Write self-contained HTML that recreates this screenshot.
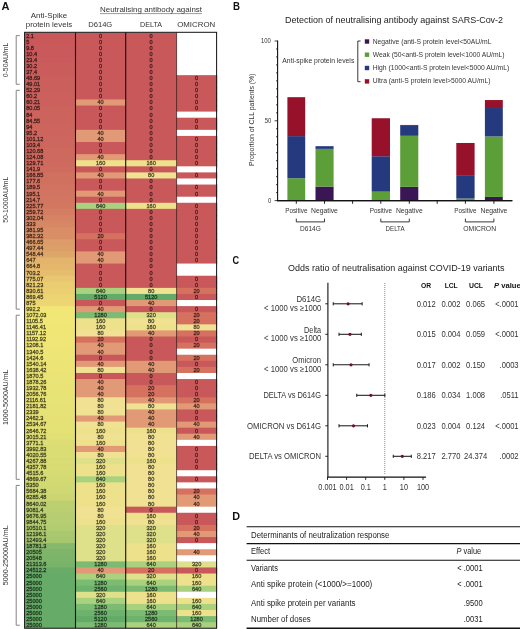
<!DOCTYPE html>
<html><head><meta charset="utf-8"><style>
html,body{margin:0;padding:0;background:#fff;}
body{width:520px;height:629px;overflow:hidden;font-family:"Liberation Sans", sans-serif;}
svg{display:block;will-change:transform;}
</style></head><body>
<svg width="520" height="629" viewBox="0 0 520 629" font-family='"Liberation Sans", sans-serif'><rect x="0.00" y="0.00" width="520.00" height="629.00" fill="#fff" /><text x="1.50" y="10.30" font-size="10.5" text-anchor="start" fill="#111" font-weight="bold" textLength="8.00" lengthAdjust="spacingAndGlyphs" >A</text><text x="49.00" y="18.30" font-size="7.9" text-anchor="middle" fill="#333" textLength="36.40" lengthAdjust="spacingAndGlyphs" >Anti-Spike</text><text x="49.00" y="27.40" font-size="7.9" text-anchor="middle" fill="#333" textLength="46.50" lengthAdjust="spacingAndGlyphs" >protein levels</text><text x="100.00" y="12.30" font-size="7.9" text-anchor="start" fill="#333" textLength="102.00" lengthAdjust="spacingAndGlyphs" >Neutralising antibody against</text><line x1="100.00" y1="13.60" x2="202.00" y2="13.60" stroke="#555" stroke-width="0.6" /><text x="88.20" y="27.40" font-size="7.9" text-anchor="start" fill="#333" textLength="24.10" lengthAdjust="spacingAndGlyphs" >D614G</text><text x="140.00" y="27.40" font-size="7.9" text-anchor="start" fill="#333" textLength="22.00" lengthAdjust="spacingAndGlyphs" >DELTA</text><text x="177.20" y="27.40" font-size="7.9" text-anchor="start" fill="#333" textLength="38.00" lengthAdjust="spacingAndGlyphs" >OMICRON</text><rect x="24.60" y="32.60" width="50.90" height="7.08" fill="#c9585b" /><rect x="75.50" y="32.60" width="50.80" height="7.08" fill="#c9585b" /><rect x="125.70" y="32.60" width="51.50" height="7.08" fill="#c9585b" /><rect x="176.60" y="32.60" width="40.60" height="7.08" fill="#ffffff" /><rect x="24.60" y="38.68" width="50.90" height="7.08" fill="#c9585b" /><rect x="75.50" y="38.68" width="50.80" height="7.08" fill="#c9585b" /><rect x="125.70" y="38.68" width="51.50" height="7.08" fill="#c9585b" /><rect x="176.60" y="38.68" width="40.60" height="7.08" fill="#ffffff" /><rect x="24.60" y="44.76" width="50.90" height="7.08" fill="#c9595b" /><rect x="75.50" y="44.76" width="50.80" height="7.08" fill="#c9585b" /><rect x="125.70" y="44.76" width="51.50" height="7.08" fill="#c9585b" /><rect x="176.60" y="44.76" width="40.60" height="7.08" fill="#ffffff" /><rect x="24.60" y="50.83" width="50.90" height="7.08" fill="#c9595b" /><rect x="75.50" y="50.83" width="50.80" height="7.08" fill="#c9585b" /><rect x="125.70" y="50.83" width="51.50" height="7.08" fill="#c9585b" /><rect x="176.60" y="50.83" width="40.60" height="7.08" fill="#ffffff" /><rect x="24.60" y="56.91" width="50.90" height="7.08" fill="#ca5b5c" /><rect x="75.50" y="56.91" width="50.80" height="7.08" fill="#c9585b" /><rect x="125.70" y="56.91" width="51.50" height="7.08" fill="#c9585b" /><rect x="176.60" y="56.91" width="40.60" height="7.08" fill="#ffffff" /><rect x="24.60" y="62.99" width="50.90" height="7.08" fill="#ca5c5c" /><rect x="75.50" y="62.99" width="50.80" height="7.08" fill="#c9585b" /><rect x="125.70" y="62.99" width="51.50" height="7.08" fill="#c9585b" /><rect x="176.60" y="62.99" width="40.60" height="7.08" fill="#ffffff" /><rect x="24.60" y="69.07" width="50.90" height="7.08" fill="#ca5d5c" /><rect x="75.50" y="69.07" width="50.80" height="7.08" fill="#c9585b" /><rect x="125.70" y="69.07" width="51.50" height="7.08" fill="#c9585b" /><rect x="176.60" y="69.07" width="40.60" height="7.08" fill="#ffffff" /><rect x="24.60" y="75.15" width="50.90" height="7.08" fill="#cb5f5c" /><rect x="75.50" y="75.15" width="50.80" height="7.08" fill="#c9585b" /><rect x="125.70" y="75.15" width="51.50" height="7.08" fill="#c9585b" /><rect x="176.60" y="75.15" width="40.60" height="7.08" fill="#c9585b" /><rect x="24.60" y="81.22" width="50.90" height="7.08" fill="#cb5f5c" /><rect x="75.50" y="81.22" width="50.80" height="7.08" fill="#c9585b" /><rect x="125.70" y="81.22" width="51.50" height="7.08" fill="#c9585b" /><rect x="176.60" y="81.22" width="40.60" height="7.08" fill="#c9585b" /><rect x="24.60" y="87.30" width="50.90" height="7.08" fill="#cb5f5c" /><rect x="75.50" y="87.30" width="50.80" height="7.08" fill="#c9585b" /><rect x="125.70" y="87.30" width="51.50" height="7.08" fill="#c9585b" /><rect x="176.60" y="87.30" width="40.60" height="7.08" fill="#c9585b" /><rect x="24.60" y="93.38" width="50.90" height="7.08" fill="#cb605d" /><rect x="75.50" y="93.38" width="50.80" height="7.08" fill="#c9585b" /><rect x="125.70" y="93.38" width="51.50" height="7.08" fill="#c9585b" /><rect x="176.60" y="93.38" width="40.60" height="7.08" fill="#c9585b" /><rect x="24.60" y="99.46" width="50.90" height="7.08" fill="#cb605d" /><rect x="75.50" y="99.46" width="50.80" height="7.08" fill="#e19a75" /><rect x="125.70" y="99.46" width="51.50" height="7.08" fill="#c9585b" /><rect x="176.60" y="99.46" width="40.60" height="7.08" fill="#c9585b" /><rect x="24.60" y="105.54" width="50.90" height="7.08" fill="#cc635d" /><rect x="75.50" y="105.54" width="50.80" height="7.08" fill="#c9585b" /><rect x="125.70" y="105.54" width="51.50" height="7.08" fill="#c9585b" /><rect x="176.60" y="105.54" width="40.60" height="7.08" fill="#c9585b" /><rect x="24.60" y="111.61" width="50.90" height="7.08" fill="#cc645d" /><rect x="75.50" y="111.61" width="50.80" height="7.08" fill="#c9585b" /><rect x="125.70" y="111.61" width="51.50" height="7.08" fill="#c9585b" /><rect x="176.60" y="111.61" width="40.60" height="7.08" fill="#ffffff" /><rect x="24.60" y="117.69" width="50.90" height="7.08" fill="#cc645d" /><rect x="75.50" y="117.69" width="50.80" height="7.08" fill="#c9585b" /><rect x="125.70" y="117.69" width="51.50" height="7.08" fill="#c9585b" /><rect x="176.60" y="117.69" width="40.60" height="7.08" fill="#c9585b" /><rect x="24.60" y="123.77" width="50.90" height="7.08" fill="#cd655d" /><rect x="75.50" y="123.77" width="50.80" height="7.08" fill="#c9585b" /><rect x="125.70" y="123.77" width="51.50" height="7.08" fill="#c9585b" /><rect x="176.60" y="123.77" width="40.60" height="7.08" fill="#c9585b" /><rect x="24.60" y="129.85" width="50.90" height="7.08" fill="#cd655e" /><rect x="75.50" y="129.85" width="50.80" height="7.08" fill="#e19a75" /><rect x="125.70" y="129.85" width="51.50" height="7.08" fill="#c9585b" /><rect x="176.60" y="129.85" width="40.60" height="7.08" fill="#ffffff" /><rect x="24.60" y="135.93" width="50.90" height="7.08" fill="#cd665e" /><rect x="75.50" y="135.93" width="50.80" height="7.08" fill="#e19a75" /><rect x="125.70" y="135.93" width="51.50" height="7.08" fill="#c9585b" /><rect x="176.60" y="135.93" width="40.60" height="7.08" fill="#c9585b" /><rect x="24.60" y="142.00" width="50.90" height="7.08" fill="#cd675e" /><rect x="75.50" y="142.00" width="50.80" height="7.08" fill="#c9585b" /><rect x="125.70" y="142.00" width="51.50" height="7.08" fill="#c9585b" /><rect x="176.60" y="142.00" width="40.60" height="7.08" fill="#c9585b" /><rect x="24.60" y="148.08" width="50.90" height="7.08" fill="#ce695e" /><rect x="75.50" y="148.08" width="50.80" height="7.08" fill="#c9585b" /><rect x="125.70" y="148.08" width="51.50" height="7.08" fill="#c9585b" /><rect x="176.60" y="148.08" width="40.60" height="7.08" fill="#c9585b" /><rect x="24.60" y="154.16" width="50.90" height="7.08" fill="#ce695e" /><rect x="75.50" y="154.16" width="50.80" height="7.08" fill="#e19a75" /><rect x="125.70" y="154.16" width="51.50" height="7.08" fill="#c9585b" /><rect x="176.60" y="154.16" width="40.60" height="7.08" fill="#c9585b" /><rect x="24.60" y="160.24" width="50.90" height="7.08" fill="#ce6a5e" /><rect x="75.50" y="160.24" width="50.80" height="7.08" fill="#eee18b" /><rect x="125.70" y="160.24" width="51.50" height="7.08" fill="#eee18b" /><rect x="176.60" y="160.24" width="40.60" height="7.08" fill="#c9585b" /><rect x="24.60" y="166.32" width="50.90" height="7.08" fill="#cf6c5f" /><rect x="75.50" y="166.32" width="50.80" height="7.08" fill="#c9585b" /><rect x="125.70" y="166.32" width="51.50" height="7.08" fill="#c9585b" /><rect x="176.60" y="166.32" width="40.60" height="7.08" fill="#ffffff" /><rect x="24.60" y="172.39" width="50.90" height="7.08" fill="#d0705f" /><rect x="75.50" y="172.39" width="50.80" height="7.08" fill="#e19a75" /><rect x="125.70" y="172.39" width="51.50" height="7.08" fill="#f1e193" /><rect x="176.60" y="172.39" width="40.60" height="7.08" fill="#c9585b" /><rect x="24.60" y="178.47" width="50.90" height="7.08" fill="#d07160" /><rect x="75.50" y="178.47" width="50.80" height="7.08" fill="#c9585b" /><rect x="125.70" y="178.47" width="51.50" height="7.08" fill="#c9585b" /><rect x="176.60" y="178.47" width="40.60" height="7.08" fill="#ffffff" /><rect x="24.60" y="184.55" width="50.90" height="7.08" fill="#d17360" /><rect x="75.50" y="184.55" width="50.80" height="7.08" fill="#c9585b" /><rect x="125.70" y="184.55" width="51.50" height="7.08" fill="#c9585b" /><rect x="176.60" y="184.55" width="40.60" height="7.08" fill="#c9585b" /><rect x="24.60" y="190.63" width="50.90" height="7.08" fill="#d17460" /><rect x="75.50" y="190.63" width="50.80" height="7.08" fill="#e19a75" /><rect x="125.70" y="190.63" width="51.50" height="7.08" fill="#c9585b" /><rect x="176.60" y="190.63" width="40.60" height="7.08" fill="#c9585b" /><rect x="24.60" y="196.71" width="50.90" height="7.08" fill="#d27661" /><rect x="75.50" y="196.71" width="50.80" height="7.08" fill="#c9585b" /><rect x="125.70" y="196.71" width="51.50" height="7.08" fill="#c9585b" /><rect x="176.60" y="196.71" width="40.60" height="7.08" fill="#ffffff" /><rect x="24.60" y="202.78" width="50.90" height="7.08" fill="#d27861" /><rect x="75.50" y="202.78" width="50.80" height="7.08" fill="#a9d17e" /><rect x="125.70" y="202.78" width="51.50" height="7.08" fill="#eee18b" /><rect x="176.60" y="202.78" width="40.60" height="7.08" fill="#c9585b" /><rect x="24.60" y="208.86" width="50.90" height="7.08" fill="#d47d62" /><rect x="75.50" y="208.86" width="50.80" height="7.08" fill="#c9585b" /><rect x="125.70" y="208.86" width="51.50" height="7.08" fill="#c9585b" /><rect x="176.60" y="208.86" width="40.60" height="7.08" fill="#c9585b" /><rect x="24.60" y="214.94" width="50.90" height="7.08" fill="#d58363" /><rect x="75.50" y="214.94" width="50.80" height="7.08" fill="#c9585b" /><rect x="125.70" y="214.94" width="51.50" height="7.08" fill="#c9585b" /><rect x="176.60" y="214.94" width="40.60" height="7.08" fill="#c9585b" /><rect x="24.60" y="221.02" width="50.90" height="7.08" fill="#d78764" /><rect x="75.50" y="221.02" width="50.80" height="7.08" fill="#c9585b" /><rect x="125.70" y="221.02" width="51.50" height="7.08" fill="#c9585b" /><rect x="176.60" y="221.02" width="40.60" height="7.08" fill="#c9585b" /><rect x="24.60" y="227.10" width="50.90" height="7.08" fill="#d98e65" /><rect x="75.50" y="227.10" width="50.80" height="7.08" fill="#c9585b" /><rect x="125.70" y="227.10" width="51.50" height="7.08" fill="#c9585b" /><rect x="176.60" y="227.10" width="40.60" height="7.08" fill="#c9585b" /><rect x="24.60" y="233.17" width="50.90" height="7.08" fill="#d98e65" /><rect x="75.50" y="233.17" width="50.80" height="7.08" fill="#d6705f" /><rect x="125.70" y="233.17" width="51.50" height="7.08" fill="#c9585b" /><rect x="176.60" y="233.17" width="40.60" height="7.08" fill="#c9585b" /><rect x="24.60" y="239.25" width="50.90" height="7.08" fill="#dc9b68" /><rect x="75.50" y="239.25" width="50.80" height="7.08" fill="#c9585b" /><rect x="125.70" y="239.25" width="51.50" height="7.08" fill="#c9585b" /><rect x="176.60" y="239.25" width="40.60" height="7.08" fill="#c9585b" /><rect x="24.60" y="245.33" width="50.90" height="7.08" fill="#dd9f68" /><rect x="75.50" y="245.33" width="50.80" height="7.08" fill="#c9585b" /><rect x="125.70" y="245.33" width="51.50" height="7.08" fill="#c9585b" /><rect x="176.60" y="245.33" width="40.60" height="7.08" fill="#c9585b" /><rect x="24.60" y="251.41" width="50.90" height="7.08" fill="#dfa66a" /><rect x="75.50" y="251.41" width="50.80" height="7.08" fill="#e19a75" /><rect x="125.70" y="251.41" width="51.50" height="7.08" fill="#c9585b" /><rect x="176.60" y="251.41" width="40.60" height="7.08" fill="#c9585b" /><rect x="24.60" y="257.49" width="50.90" height="7.08" fill="#e3b46c" /><rect x="75.50" y="257.49" width="50.80" height="7.08" fill="#e19a75" /><rect x="125.70" y="257.49" width="51.50" height="7.08" fill="#c9585b" /><rect x="176.60" y="257.49" width="40.60" height="7.08" fill="#c9585b" /><rect x="24.60" y="263.56" width="50.90" height="7.08" fill="#e4b76d" /><rect x="75.50" y="263.56" width="50.80" height="7.08" fill="#c9585b" /><rect x="125.70" y="263.56" width="51.50" height="7.08" fill="#c9585b" /><rect x="176.60" y="263.56" width="40.60" height="7.08" fill="#ffffff" /><rect x="24.60" y="269.64" width="50.90" height="7.08" fill="#e6bc6e" /><rect x="75.50" y="269.64" width="50.80" height="7.08" fill="#c9585b" /><rect x="125.70" y="269.64" width="51.50" height="7.08" fill="#c9585b" /><rect x="176.60" y="269.64" width="40.60" height="7.08" fill="#ffffff" /><rect x="24.60" y="275.72" width="50.90" height="7.08" fill="#e9c770" /><rect x="75.50" y="275.72" width="50.80" height="7.08" fill="#c9585b" /><rect x="125.70" y="275.72" width="51.50" height="7.08" fill="#c9585b" /><rect x="176.60" y="275.72" width="40.60" height="7.08" fill="#c9585b" /><rect x="24.60" y="281.80" width="50.90" height="7.08" fill="#ebcd71" /><rect x="75.50" y="281.80" width="50.80" height="7.08" fill="#c9585b" /><rect x="125.70" y="281.80" width="51.50" height="7.08" fill="#c9585b" /><rect x="176.60" y="281.80" width="40.60" height="7.08" fill="#c9585b" /><rect x="24.60" y="287.88" width="50.90" height="7.08" fill="#ebcf71" /><rect x="75.50" y="287.88" width="50.80" height="7.08" fill="#a9d17e" /><rect x="125.70" y="287.88" width="51.50" height="7.08" fill="#f1e193" /><rect x="176.60" y="287.88" width="40.60" height="7.08" fill="#d6705f" /><rect x="24.60" y="293.95" width="50.90" height="7.08" fill="#edd472" /><rect x="75.50" y="293.95" width="50.80" height="7.08" fill="#62ab68" /><rect x="125.70" y="293.95" width="51.50" height="7.08" fill="#62ab68" /><rect x="176.60" y="293.95" width="40.60" height="7.08" fill="#c9585b" /><rect x="24.60" y="300.03" width="50.90" height="7.08" fill="#edd573" /><rect x="75.50" y="300.03" width="50.80" height="7.08" fill="#c9585b" /><rect x="125.70" y="300.03" width="51.50" height="7.08" fill="#e19a75" /><rect x="176.60" y="300.03" width="40.60" height="7.08" fill="#ffffff" /><rect x="24.60" y="306.11" width="50.90" height="7.08" fill="#f2e676" /><rect x="75.50" y="306.11" width="50.80" height="7.08" fill="#e19a75" /><rect x="125.70" y="306.11" width="51.50" height="7.08" fill="#c9585b" /><rect x="176.60" y="306.11" width="40.60" height="7.08" fill="#c9585b" /><rect x="24.60" y="312.19" width="50.90" height="7.08" fill="#f1e776" /><rect x="75.50" y="312.19" width="50.80" height="7.08" fill="#7cbb72" /><rect x="125.70" y="312.19" width="51.50" height="7.08" fill="#dfe08a" /><rect x="176.60" y="312.19" width="40.60" height="7.08" fill="#d6705f" /><rect x="24.60" y="318.27" width="50.90" height="7.08" fill="#f1e676" /><rect x="75.50" y="318.27" width="50.80" height="7.08" fill="#eee18b" /><rect x="125.70" y="318.27" width="51.50" height="7.08" fill="#f1e193" /><rect x="176.60" y="318.27" width="40.60" height="7.08" fill="#d6705f" /><rect x="24.60" y="324.34" width="50.90" height="7.08" fill="#f0e676" /><rect x="75.50" y="324.34" width="50.80" height="7.08" fill="#eee18b" /><rect x="125.70" y="324.34" width="51.50" height="7.08" fill="#eee18b" /><rect x="176.60" y="324.34" width="40.60" height="7.08" fill="#f1e193" /><rect x="24.60" y="330.42" width="50.90" height="7.08" fill="#f0e676" /><rect x="75.50" y="330.42" width="50.80" height="7.08" fill="#f1e193" /><rect x="125.70" y="330.42" width="51.50" height="7.08" fill="#e19a75" /><rect x="176.60" y="330.42" width="40.60" height="7.08" fill="#d6705f" /><rect x="24.60" y="336.50" width="50.90" height="7.08" fill="#f0e676" /><rect x="75.50" y="336.50" width="50.80" height="7.08" fill="#d6705f" /><rect x="125.70" y="336.50" width="51.50" height="7.08" fill="#c9585b" /><rect x="176.60" y="336.50" width="40.60" height="7.08" fill="#c9585b" /><rect x="24.60" y="342.58" width="50.90" height="7.08" fill="#f0e676" /><rect x="75.50" y="342.58" width="50.80" height="7.08" fill="#e19a75" /><rect x="125.70" y="342.58" width="51.50" height="7.08" fill="#c9585b" /><rect x="176.60" y="342.58" width="40.60" height="7.08" fill="#d6705f" /><rect x="24.60" y="348.66" width="50.90" height="7.08" fill="#eee576" /><rect x="75.50" y="348.66" width="50.80" height="7.08" fill="#e19a75" /><rect x="125.70" y="348.66" width="51.50" height="7.08" fill="#c9585b" /><rect x="176.60" y="348.66" width="40.60" height="7.08" fill="#ffffff" /><rect x="24.60" y="354.73" width="50.90" height="7.08" fill="#ede576" /><rect x="75.50" y="354.73" width="50.80" height="7.08" fill="#c9585b" /><rect x="125.70" y="354.73" width="51.50" height="7.08" fill="#c9585b" /><rect x="176.60" y="354.73" width="40.60" height="7.08" fill="#d6705f" /><rect x="24.60" y="360.81" width="50.90" height="7.08" fill="#ece575" /><rect x="75.50" y="360.81" width="50.80" height="7.08" fill="#e19a75" /><rect x="125.70" y="360.81" width="51.50" height="7.08" fill="#e19a75" /><rect x="176.60" y="360.81" width="40.60" height="7.08" fill="#c9585b" /><rect x="24.60" y="366.89" width="50.90" height="7.08" fill="#ece475" /><rect x="75.50" y="366.89" width="50.80" height="7.08" fill="#f1e193" /><rect x="125.70" y="366.89" width="51.50" height="7.08" fill="#e19a75" /><rect x="176.60" y="366.89" width="40.60" height="7.08" fill="#d6705f" /><rect x="24.60" y="372.97" width="50.90" height="7.08" fill="#eae375" /><rect x="75.50" y="372.97" width="50.80" height="7.08" fill="#c9585b" /><rect x="125.70" y="372.97" width="51.50" height="7.08" fill="#c9585b" /><rect x="176.60" y="372.97" width="40.60" height="7.08" fill="#ffffff" /><rect x="24.60" y="379.05" width="50.90" height="7.08" fill="#eae375" /><rect x="75.50" y="379.05" width="50.80" height="7.08" fill="#e19a75" /><rect x="125.70" y="379.05" width="51.50" height="7.08" fill="#c9585b" /><rect x="176.60" y="379.05" width="40.60" height="7.08" fill="#c9585b" /><rect x="24.60" y="385.12" width="50.90" height="7.08" fill="#e9e375" /><rect x="75.50" y="385.12" width="50.80" height="7.08" fill="#e19a75" /><rect x="125.70" y="385.12" width="51.50" height="7.08" fill="#d6705f" /><rect x="176.60" y="385.12" width="40.60" height="7.08" fill="#c9585b" /><rect x="24.60" y="391.20" width="50.90" height="7.08" fill="#e8e375" /><rect x="75.50" y="391.20" width="50.80" height="7.08" fill="#e19a75" /><rect x="125.70" y="391.20" width="51.50" height="7.08" fill="#d6705f" /><rect x="176.60" y="391.20" width="40.60" height="7.08" fill="#c9585b" /><rect x="24.60" y="397.28" width="50.90" height="7.08" fill="#e8e375" /><rect x="75.50" y="397.28" width="50.80" height="7.08" fill="#f1e193" /><rect x="125.70" y="397.28" width="51.50" height="7.08" fill="#e19a75" /><rect x="176.60" y="397.28" width="40.60" height="7.08" fill="#d6705f" /><rect x="24.60" y="403.36" width="50.90" height="7.08" fill="#e7e275" /><rect x="75.50" y="403.36" width="50.80" height="7.08" fill="#f1e193" /><rect x="125.70" y="403.36" width="51.50" height="7.08" fill="#f1e193" /><rect x="176.60" y="403.36" width="40.60" height="7.08" fill="#e19a75" /><rect x="24.60" y="409.44" width="50.90" height="7.08" fill="#e6e275" /><rect x="75.50" y="409.44" width="50.80" height="7.08" fill="#f1e193" /><rect x="125.70" y="409.44" width="51.50" height="7.08" fill="#e19a75" /><rect x="176.60" y="409.44" width="40.60" height="7.08" fill="#c9585b" /><rect x="24.60" y="415.51" width="50.90" height="7.08" fill="#e5e175" /><rect x="75.50" y="415.51" width="50.80" height="7.08" fill="#e19a75" /><rect x="125.70" y="415.51" width="51.50" height="7.08" fill="#e19a75" /><rect x="176.60" y="415.51" width="40.60" height="7.08" fill="#c9585b" /><rect x="24.60" y="421.59" width="50.90" height="7.08" fill="#e4e175" /><rect x="75.50" y="421.59" width="50.80" height="7.08" fill="#f1e193" /><rect x="125.70" y="421.59" width="51.50" height="7.08" fill="#e19a75" /><rect x="176.60" y="421.59" width="40.60" height="7.08" fill="#e19a75" /><rect x="24.60" y="427.67" width="50.90" height="7.08" fill="#e4e175" /><rect x="75.50" y="427.67" width="50.80" height="7.08" fill="#eee18b" /><rect x="125.70" y="427.67" width="51.50" height="7.08" fill="#eee18b" /><rect x="176.60" y="427.67" width="40.60" height="7.08" fill="#c9585b" /><rect x="24.60" y="433.75" width="50.90" height="7.08" fill="#e1e074" /><rect x="75.50" y="433.75" width="50.80" height="7.08" fill="#f1e193" /><rect x="125.70" y="433.75" width="51.50" height="7.08" fill="#f1e193" /><rect x="176.60" y="433.75" width="40.60" height="7.08" fill="#e19a75" /><rect x="24.60" y="439.83" width="50.90" height="7.08" fill="#dcdd74" /><rect x="75.50" y="439.83" width="50.80" height="7.08" fill="#eee18b" /><rect x="125.70" y="439.83" width="51.50" height="7.08" fill="#f1e193" /><rect x="176.60" y="439.83" width="40.60" height="7.08" fill="#ffffff" /><rect x="24.60" y="445.90" width="50.90" height="7.08" fill="#dadd74" /><rect x="75.50" y="445.90" width="50.80" height="7.08" fill="#e19a75" /><rect x="125.70" y="445.90" width="51.50" height="7.08" fill="#f1e193" /><rect x="176.60" y="445.90" width="40.60" height="7.08" fill="#c9585b" /><rect x="24.60" y="451.98" width="50.90" height="7.08" fill="#dadd74" /><rect x="75.50" y="451.98" width="50.80" height="7.08" fill="#f1e193" /><rect x="125.70" y="451.98" width="51.50" height="7.08" fill="#f1e193" /><rect x="176.60" y="451.98" width="40.60" height="7.08" fill="#c9585b" /><rect x="24.60" y="458.06" width="50.90" height="7.08" fill="#d8dc73" /><rect x="75.50" y="458.06" width="50.80" height="7.08" fill="#dfe08a" /><rect x="125.70" y="458.06" width="51.50" height="7.08" fill="#eee18b" /><rect x="176.60" y="458.06" width="40.60" height="7.08" fill="#c9585b" /><rect x="24.60" y="464.14" width="50.90" height="7.08" fill="#d8dc73" /><rect x="75.50" y="464.14" width="50.80" height="7.08" fill="#eee18b" /><rect x="125.70" y="464.14" width="51.50" height="7.08" fill="#f1e193" /><rect x="176.60" y="464.14" width="40.60" height="7.08" fill="#c9585b" /><rect x="24.60" y="470.22" width="50.90" height="7.08" fill="#d7db73" /><rect x="75.50" y="470.22" width="50.80" height="7.08" fill="#eee18b" /><rect x="125.70" y="470.22" width="51.50" height="7.08" fill="#f1e193" /><rect x="176.60" y="470.22" width="40.60" height="7.08" fill="#ffffff" /><rect x="24.60" y="476.29" width="50.90" height="7.08" fill="#d4da73" /><rect x="75.50" y="476.29" width="50.80" height="7.08" fill="#a9d17e" /><rect x="125.70" y="476.29" width="51.50" height="7.08" fill="#f1e193" /><rect x="176.60" y="476.29" width="40.60" height="7.08" fill="#c9585b" /><rect x="24.60" y="482.37" width="50.90" height="7.08" fill="#d1d973" /><rect x="75.50" y="482.37" width="50.80" height="7.08" fill="#eee18b" /><rect x="125.70" y="482.37" width="51.50" height="7.08" fill="#f1e193" /><rect x="176.60" y="482.37" width="40.60" height="7.08" fill="#ffffff" /><rect x="24.60" y="488.45" width="50.90" height="7.08" fill="#cfd873" /><rect x="75.50" y="488.45" width="50.80" height="7.08" fill="#eee18b" /><rect x="125.70" y="488.45" width="51.50" height="7.08" fill="#f1e193" /><rect x="176.60" y="488.45" width="40.60" height="7.08" fill="#d6705f" /><rect x="24.60" y="494.53" width="50.90" height="7.08" fill="#cbd672" /><rect x="75.50" y="494.53" width="50.80" height="7.08" fill="#eee18b" /><rect x="125.70" y="494.53" width="51.50" height="7.08" fill="#f1e193" /><rect x="176.60" y="494.53" width="40.60" height="7.08" fill="#e19a75" /><rect x="24.60" y="500.61" width="50.90" height="7.08" fill="#bdd071" /><rect x="75.50" y="500.61" width="50.80" height="7.08" fill="#eee18b" /><rect x="125.70" y="500.61" width="51.50" height="7.08" fill="#f1e193" /><rect x="176.60" y="500.61" width="40.60" height="7.08" fill="#e19a75" /><rect x="24.60" y="506.68" width="50.90" height="7.08" fill="#bacf70" /><rect x="75.50" y="506.68" width="50.80" height="7.08" fill="#f1e193" /><rect x="125.70" y="506.68" width="51.50" height="7.08" fill="#c9585b" /><rect x="176.60" y="506.68" width="40.60" height="7.08" fill="#ffffff" /><rect x="24.60" y="512.76" width="50.90" height="7.08" fill="#b7ce70" /><rect x="75.50" y="512.76" width="50.80" height="7.08" fill="#f1e193" /><rect x="125.70" y="512.76" width="51.50" height="7.08" fill="#eee18b" /><rect x="176.60" y="512.76" width="40.60" height="7.08" fill="#c9585b" /><rect x="24.60" y="518.84" width="50.90" height="7.08" fill="#b6cd70" /><rect x="75.50" y="518.84" width="50.80" height="7.08" fill="#eee18b" /><rect x="125.70" y="518.84" width="51.50" height="7.08" fill="#f1e193" /><rect x="176.60" y="518.84" width="40.60" height="7.08" fill="#c9585b" /><rect x="24.60" y="524.92" width="50.90" height="7.08" fill="#b2cc70" /><rect x="75.50" y="524.92" width="50.80" height="7.08" fill="#dfe08a" /><rect x="125.70" y="524.92" width="51.50" height="7.08" fill="#dfe08a" /><rect x="176.60" y="524.92" width="40.60" height="7.08" fill="#d6705f" /><rect x="24.60" y="531.00" width="50.90" height="7.08" fill="#a9c86f" /><rect x="75.50" y="531.00" width="50.80" height="7.08" fill="#dfe08a" /><rect x="125.70" y="531.00" width="51.50" height="7.08" fill="#dfe08a" /><rect x="176.60" y="531.00" width="40.60" height="7.08" fill="#e19a75" /><rect x="24.60" y="537.07" width="50.90" height="7.08" fill="#a7c76f" /><rect x="75.50" y="537.07" width="50.80" height="7.08" fill="#dfe08a" /><rect x="125.70" y="537.07" width="51.50" height="7.08" fill="#dfe08a" /><rect x="176.60" y="537.07" width="40.60" height="7.08" fill="#c9585b" /><rect x="24.60" y="543.15" width="50.90" height="7.08" fill="#86b96b" /><rect x="75.50" y="543.15" width="50.80" height="7.08" fill="#dfe08a" /><rect x="125.70" y="543.15" width="51.50" height="7.08" fill="#eee18b" /><rect x="176.60" y="543.15" width="40.60" height="7.08" fill="#ffffff" /><rect x="24.60" y="549.23" width="50.90" height="7.08" fill="#7db56a" /><rect x="75.50" y="549.23" width="50.80" height="7.08" fill="#dfe08a" /><rect x="125.70" y="549.23" width="51.50" height="7.08" fill="#eee18b" /><rect x="176.60" y="549.23" width="40.60" height="7.08" fill="#e19a75" /><rect x="24.60" y="555.31" width="50.90" height="7.08" fill="#7cb56a" /><rect x="75.50" y="555.31" width="50.80" height="7.08" fill="#dfe08a" /><rect x="125.70" y="555.31" width="51.50" height="7.08" fill="#eee18b" /><rect x="176.60" y="555.31" width="40.60" height="7.08" fill="#ffffff" /><rect x="24.60" y="561.39" width="50.90" height="7.08" fill="#79b36a" /><rect x="75.50" y="561.39" width="50.80" height="7.08" fill="#7cbb72" /><rect x="125.70" y="561.39" width="51.50" height="7.08" fill="#a9d17e" /><rect x="176.60" y="561.39" width="40.60" height="7.08" fill="#dfe08a" /><rect x="24.60" y="567.46" width="50.90" height="7.08" fill="#68ac68" /><rect x="75.50" y="567.46" width="50.80" height="7.08" fill="#e19a75" /><rect x="125.70" y="567.46" width="51.50" height="7.08" fill="#d6705f" /><rect x="176.60" y="567.46" width="40.60" height="7.08" fill="#c9585b" /><rect x="24.60" y="573.54" width="50.90" height="7.08" fill="#66ab68" /><rect x="75.50" y="573.54" width="50.80" height="7.08" fill="#a9d17e" /><rect x="125.70" y="573.54" width="51.50" height="7.08" fill="#dfe08a" /><rect x="176.60" y="573.54" width="40.60" height="7.08" fill="#eee18b" /><rect x="24.60" y="579.62" width="50.90" height="7.08" fill="#66ab68" /><rect x="75.50" y="579.62" width="50.80" height="7.08" fill="#7cbb72" /><rect x="125.70" y="579.62" width="51.50" height="7.08" fill="#a9d17e" /><rect x="176.60" y="579.62" width="40.60" height="7.08" fill="#eee18b" /><rect x="24.60" y="585.70" width="50.90" height="7.08" fill="#66ab68" /><rect x="75.50" y="585.70" width="50.80" height="7.08" fill="#6db26d" /><rect x="125.70" y="585.70" width="51.50" height="7.08" fill="#7cbb72" /><rect x="176.60" y="585.70" width="40.60" height="7.08" fill="#a9d17e" /><rect x="24.60" y="591.78" width="50.90" height="7.08" fill="#66ab68" /><rect x="75.50" y="591.78" width="50.80" height="7.08" fill="#dfe08a" /><rect x="125.70" y="591.78" width="51.50" height="7.08" fill="#eee18b" /><rect x="176.60" y="591.78" width="40.60" height="7.08" fill="#ffffff" /><rect x="24.60" y="597.85" width="50.90" height="7.08" fill="#66ab68" /><rect x="75.50" y="597.85" width="50.80" height="7.08" fill="#a9d17e" /><rect x="125.70" y="597.85" width="51.50" height="7.08" fill="#eee18b" /><rect x="176.60" y="597.85" width="40.60" height="7.08" fill="#eee18b" /><rect x="24.60" y="603.93" width="50.90" height="7.08" fill="#66ab68" /><rect x="75.50" y="603.93" width="50.80" height="7.08" fill="#7cbb72" /><rect x="125.70" y="603.93" width="51.50" height="7.08" fill="#a9d17e" /><rect x="176.60" y="603.93" width="40.60" height="7.08" fill="#a9d17e" /><rect x="24.60" y="610.01" width="50.90" height="7.08" fill="#66ab68" /><rect x="75.50" y="610.01" width="50.80" height="7.08" fill="#6db26d" /><rect x="125.70" y="610.01" width="51.50" height="7.08" fill="#7cbb72" /><rect x="176.60" y="610.01" width="40.60" height="7.08" fill="#eee18b" /><rect x="24.60" y="616.09" width="50.90" height="7.08" fill="#66ab68" /><rect x="75.50" y="616.09" width="50.80" height="7.08" fill="#62ab68" /><rect x="125.70" y="616.09" width="51.50" height="7.08" fill="#6db26d" /><rect x="176.60" y="616.09" width="40.60" height="7.08" fill="#7cbb72" /><rect x="24.60" y="622.17" width="50.90" height="6.08" fill="#66ab68" /><rect x="75.50" y="622.17" width="50.80" height="6.08" fill="#7cbb72" /><rect x="125.70" y="622.17" width="51.50" height="6.08" fill="#a9d17e" /><rect x="176.60" y="622.17" width="40.60" height="6.08" fill="#a9d17e" /><text x="26.20" y="37.50" font-size="6.0" text-anchor="start" fill="#401c1d" textLength="7.78" lengthAdjust="spacingAndGlyphs" stroke="#401c1d" stroke-width="0.3">2.1</text><text x="100.60" y="37.50" font-size="6.0" text-anchor="middle" fill="#401c1d" textLength="3.11" lengthAdjust="spacingAndGlyphs" stroke="#401c1d" stroke-width="0.3">0</text><text x="151.15" y="37.50" font-size="6.0" text-anchor="middle" fill="#401c1d" textLength="3.11" lengthAdjust="spacingAndGlyphs" stroke="#401c1d" stroke-width="0.3">0</text><text x="26.20" y="43.58" font-size="6.0" text-anchor="start" fill="#401c1d" textLength="3.11" lengthAdjust="spacingAndGlyphs" stroke="#401c1d" stroke-width="0.3">5</text><text x="100.60" y="43.58" font-size="6.0" text-anchor="middle" fill="#401c1d" textLength="3.11" lengthAdjust="spacingAndGlyphs" stroke="#401c1d" stroke-width="0.3">0</text><text x="151.15" y="43.58" font-size="6.0" text-anchor="middle" fill="#401c1d" textLength="3.11" lengthAdjust="spacingAndGlyphs" stroke="#401c1d" stroke-width="0.3">0</text><text x="26.20" y="49.66" font-size="6.0" text-anchor="start" fill="#401c1d" textLength="7.78" lengthAdjust="spacingAndGlyphs" stroke="#401c1d" stroke-width="0.3">9.8</text><text x="100.60" y="49.66" font-size="6.0" text-anchor="middle" fill="#401c1d" textLength="3.11" lengthAdjust="spacingAndGlyphs" stroke="#401c1d" stroke-width="0.3">0</text><text x="151.15" y="49.66" font-size="6.0" text-anchor="middle" fill="#401c1d" textLength="3.11" lengthAdjust="spacingAndGlyphs" stroke="#401c1d" stroke-width="0.3">0</text><text x="26.20" y="55.73" font-size="6.0" text-anchor="start" fill="#401c1d" textLength="10.90" lengthAdjust="spacingAndGlyphs" stroke="#401c1d" stroke-width="0.3">10.4</text><text x="100.60" y="55.73" font-size="6.0" text-anchor="middle" fill="#401c1d" textLength="3.11" lengthAdjust="spacingAndGlyphs" stroke="#401c1d" stroke-width="0.3">0</text><text x="151.15" y="55.73" font-size="6.0" text-anchor="middle" fill="#401c1d" textLength="3.11" lengthAdjust="spacingAndGlyphs" stroke="#401c1d" stroke-width="0.3">0</text><text x="26.20" y="61.81" font-size="6.0" text-anchor="start" fill="#411d1d" textLength="10.90" lengthAdjust="spacingAndGlyphs" stroke="#411d1d" stroke-width="0.3">23.4</text><text x="100.60" y="61.81" font-size="6.0" text-anchor="middle" fill="#401c1d" textLength="3.11" lengthAdjust="spacingAndGlyphs" stroke="#401c1d" stroke-width="0.3">0</text><text x="151.15" y="61.81" font-size="6.0" text-anchor="middle" fill="#401c1d" textLength="3.11" lengthAdjust="spacingAndGlyphs" stroke="#401c1d" stroke-width="0.3">0</text><text x="26.20" y="67.89" font-size="6.0" text-anchor="start" fill="#411d1d" textLength="10.90" lengthAdjust="spacingAndGlyphs" stroke="#411d1d" stroke-width="0.3">30.2</text><text x="100.60" y="67.89" font-size="6.0" text-anchor="middle" fill="#401c1d" textLength="3.11" lengthAdjust="spacingAndGlyphs" stroke="#401c1d" stroke-width="0.3">0</text><text x="151.15" y="67.89" font-size="6.0" text-anchor="middle" fill="#401c1d" textLength="3.11" lengthAdjust="spacingAndGlyphs" stroke="#401c1d" stroke-width="0.3">0</text><text x="26.20" y="73.97" font-size="6.0" text-anchor="start" fill="#411e1d" textLength="10.90" lengthAdjust="spacingAndGlyphs" stroke="#411e1d" stroke-width="0.3">37.4</text><text x="100.60" y="73.97" font-size="6.0" text-anchor="middle" fill="#401c1d" textLength="3.11" lengthAdjust="spacingAndGlyphs" stroke="#401c1d" stroke-width="0.3">0</text><text x="151.15" y="73.97" font-size="6.0" text-anchor="middle" fill="#401c1d" textLength="3.11" lengthAdjust="spacingAndGlyphs" stroke="#401c1d" stroke-width="0.3">0</text><text x="26.20" y="80.05" font-size="6.0" text-anchor="start" fill="#411e1d" textLength="14.01" lengthAdjust="spacingAndGlyphs" stroke="#411e1d" stroke-width="0.3">48.69</text><text x="100.60" y="80.05" font-size="6.0" text-anchor="middle" fill="#401c1d" textLength="3.11" lengthAdjust="spacingAndGlyphs" stroke="#401c1d" stroke-width="0.3">0</text><text x="151.15" y="80.05" font-size="6.0" text-anchor="middle" fill="#401c1d" textLength="3.11" lengthAdjust="spacingAndGlyphs" stroke="#401c1d" stroke-width="0.3">0</text><text x="196.60" y="80.05" font-size="6.0" text-anchor="middle" fill="#401c1d" textLength="3.11" lengthAdjust="spacingAndGlyphs" stroke="#401c1d" stroke-width="0.3">0</text><text x="26.20" y="86.12" font-size="6.0" text-anchor="start" fill="#411e1d" textLength="14.01" lengthAdjust="spacingAndGlyphs" stroke="#411e1d" stroke-width="0.3">49.01</text><text x="100.60" y="86.12" font-size="6.0" text-anchor="middle" fill="#401c1d" textLength="3.11" lengthAdjust="spacingAndGlyphs" stroke="#401c1d" stroke-width="0.3">0</text><text x="151.15" y="86.12" font-size="6.0" text-anchor="middle" fill="#401c1d" textLength="3.11" lengthAdjust="spacingAndGlyphs" stroke="#401c1d" stroke-width="0.3">0</text><text x="196.60" y="86.12" font-size="6.0" text-anchor="middle" fill="#401c1d" textLength="3.11" lengthAdjust="spacingAndGlyphs" stroke="#401c1d" stroke-width="0.3">0</text><text x="26.20" y="92.20" font-size="6.0" text-anchor="start" fill="#411e1d" textLength="14.01" lengthAdjust="spacingAndGlyphs" stroke="#411e1d" stroke-width="0.3">52.29</text><text x="100.60" y="92.20" font-size="6.0" text-anchor="middle" fill="#401c1d" textLength="3.11" lengthAdjust="spacingAndGlyphs" stroke="#401c1d" stroke-width="0.3">0</text><text x="151.15" y="92.20" font-size="6.0" text-anchor="middle" fill="#401c1d" textLength="3.11" lengthAdjust="spacingAndGlyphs" stroke="#401c1d" stroke-width="0.3">0</text><text x="196.60" y="92.20" font-size="6.0" text-anchor="middle" fill="#401c1d" textLength="3.11" lengthAdjust="spacingAndGlyphs" stroke="#401c1d" stroke-width="0.3">0</text><text x="26.20" y="98.28" font-size="6.0" text-anchor="start" fill="#411f1e" textLength="10.90" lengthAdjust="spacingAndGlyphs" stroke="#411f1e" stroke-width="0.3">60.2</text><text x="100.60" y="98.28" font-size="6.0" text-anchor="middle" fill="#401c1d" textLength="3.11" lengthAdjust="spacingAndGlyphs" stroke="#401c1d" stroke-width="0.3">0</text><text x="151.15" y="98.28" font-size="6.0" text-anchor="middle" fill="#401c1d" textLength="3.11" lengthAdjust="spacingAndGlyphs" stroke="#401c1d" stroke-width="0.3">0</text><text x="196.60" y="98.28" font-size="6.0" text-anchor="middle" fill="#401c1d" textLength="3.11" lengthAdjust="spacingAndGlyphs" stroke="#401c1d" stroke-width="0.3">0</text><text x="26.20" y="104.36" font-size="6.0" text-anchor="start" fill="#411f1e" textLength="14.01" lengthAdjust="spacingAndGlyphs" stroke="#411f1e" stroke-width="0.3">60.21</text><text x="100.60" y="104.36" font-size="6.0" text-anchor="middle" fill="#483125" textLength="6.23" lengthAdjust="spacingAndGlyphs" stroke="#483125" stroke-width="0.3">40</text><text x="151.15" y="104.36" font-size="6.0" text-anchor="middle" fill="#401c1d" textLength="3.11" lengthAdjust="spacingAndGlyphs" stroke="#401c1d" stroke-width="0.3">0</text><text x="196.60" y="104.36" font-size="6.0" text-anchor="middle" fill="#401c1d" textLength="3.11" lengthAdjust="spacingAndGlyphs" stroke="#401c1d" stroke-width="0.3">0</text><text x="26.20" y="110.44" font-size="6.0" text-anchor="start" fill="#41201e" textLength="14.01" lengthAdjust="spacingAndGlyphs" stroke="#41201e" stroke-width="0.3">80.05</text><text x="100.60" y="110.44" font-size="6.0" text-anchor="middle" fill="#401c1d" textLength="3.11" lengthAdjust="spacingAndGlyphs" stroke="#401c1d" stroke-width="0.3">0</text><text x="151.15" y="110.44" font-size="6.0" text-anchor="middle" fill="#401c1d" textLength="3.11" lengthAdjust="spacingAndGlyphs" stroke="#401c1d" stroke-width="0.3">0</text><text x="196.60" y="110.44" font-size="6.0" text-anchor="middle" fill="#401c1d" textLength="3.11" lengthAdjust="spacingAndGlyphs" stroke="#401c1d" stroke-width="0.3">0</text><text x="26.20" y="116.51" font-size="6.0" text-anchor="start" fill="#41201e" textLength="6.23" lengthAdjust="spacingAndGlyphs" stroke="#41201e" stroke-width="0.3">84</text><text x="100.60" y="116.51" font-size="6.0" text-anchor="middle" fill="#401c1d" textLength="3.11" lengthAdjust="spacingAndGlyphs" stroke="#401c1d" stroke-width="0.3">0</text><text x="151.15" y="116.51" font-size="6.0" text-anchor="middle" fill="#401c1d" textLength="3.11" lengthAdjust="spacingAndGlyphs" stroke="#401c1d" stroke-width="0.3">0</text><text x="26.20" y="122.59" font-size="6.0" text-anchor="start" fill="#41201e" textLength="14.01" lengthAdjust="spacingAndGlyphs" stroke="#41201e" stroke-width="0.3">84.55</text><text x="100.60" y="122.59" font-size="6.0" text-anchor="middle" fill="#401c1d" textLength="3.11" lengthAdjust="spacingAndGlyphs" stroke="#401c1d" stroke-width="0.3">0</text><text x="151.15" y="122.59" font-size="6.0" text-anchor="middle" fill="#401c1d" textLength="3.11" lengthAdjust="spacingAndGlyphs" stroke="#401c1d" stroke-width="0.3">0</text><text x="196.60" y="122.59" font-size="6.0" text-anchor="middle" fill="#401c1d" textLength="3.11" lengthAdjust="spacingAndGlyphs" stroke="#401c1d" stroke-width="0.3">0</text><text x="26.20" y="128.67" font-size="6.0" text-anchor="start" fill="#42201e" textLength="6.23" lengthAdjust="spacingAndGlyphs" stroke="#42201e" stroke-width="0.3">94</text><text x="100.60" y="128.67" font-size="6.0" text-anchor="middle" fill="#401c1d" textLength="3.11" lengthAdjust="spacingAndGlyphs" stroke="#401c1d" stroke-width="0.3">0</text><text x="151.15" y="128.67" font-size="6.0" text-anchor="middle" fill="#401c1d" textLength="3.11" lengthAdjust="spacingAndGlyphs" stroke="#401c1d" stroke-width="0.3">0</text><text x="196.60" y="128.67" font-size="6.0" text-anchor="middle" fill="#401c1d" textLength="3.11" lengthAdjust="spacingAndGlyphs" stroke="#401c1d" stroke-width="0.3">0</text><text x="26.20" y="134.75" font-size="6.0" text-anchor="start" fill="#42201e" textLength="10.90" lengthAdjust="spacingAndGlyphs" stroke="#42201e" stroke-width="0.3">95.2</text><text x="100.60" y="134.75" font-size="6.0" text-anchor="middle" fill="#483125" textLength="6.23" lengthAdjust="spacingAndGlyphs" stroke="#483125" stroke-width="0.3">40</text><text x="151.15" y="134.75" font-size="6.0" text-anchor="middle" fill="#401c1d" textLength="3.11" lengthAdjust="spacingAndGlyphs" stroke="#401c1d" stroke-width="0.3">0</text><text x="26.20" y="140.83" font-size="6.0" text-anchor="start" fill="#42211e" textLength="17.13" lengthAdjust="spacingAndGlyphs" stroke="#42211e" stroke-width="0.3">101.12</text><text x="100.60" y="140.83" font-size="6.0" text-anchor="middle" fill="#483125" textLength="6.23" lengthAdjust="spacingAndGlyphs" stroke="#483125" stroke-width="0.3">40</text><text x="151.15" y="140.83" font-size="6.0" text-anchor="middle" fill="#401c1d" textLength="3.11" lengthAdjust="spacingAndGlyphs" stroke="#401c1d" stroke-width="0.3">0</text><text x="196.60" y="140.83" font-size="6.0" text-anchor="middle" fill="#401c1d" textLength="3.11" lengthAdjust="spacingAndGlyphs" stroke="#401c1d" stroke-width="0.3">0</text><text x="26.20" y="146.90" font-size="6.0" text-anchor="start" fill="#42211e" textLength="14.01" lengthAdjust="spacingAndGlyphs" stroke="#42211e" stroke-width="0.3">103.4</text><text x="100.60" y="146.90" font-size="6.0" text-anchor="middle" fill="#401c1d" textLength="3.11" lengthAdjust="spacingAndGlyphs" stroke="#401c1d" stroke-width="0.3">0</text><text x="151.15" y="146.90" font-size="6.0" text-anchor="middle" fill="#401c1d" textLength="3.11" lengthAdjust="spacingAndGlyphs" stroke="#401c1d" stroke-width="0.3">0</text><text x="196.60" y="146.90" font-size="6.0" text-anchor="middle" fill="#401c1d" textLength="3.11" lengthAdjust="spacingAndGlyphs" stroke="#401c1d" stroke-width="0.3">0</text><text x="26.20" y="152.98" font-size="6.0" text-anchor="start" fill="#42221e" textLength="17.13" lengthAdjust="spacingAndGlyphs" stroke="#42221e" stroke-width="0.3">120.68</text><text x="100.60" y="152.98" font-size="6.0" text-anchor="middle" fill="#401c1d" textLength="3.11" lengthAdjust="spacingAndGlyphs" stroke="#401c1d" stroke-width="0.3">0</text><text x="151.15" y="152.98" font-size="6.0" text-anchor="middle" fill="#401c1d" textLength="3.11" lengthAdjust="spacingAndGlyphs" stroke="#401c1d" stroke-width="0.3">0</text><text x="196.60" y="152.98" font-size="6.0" text-anchor="middle" fill="#401c1d" textLength="3.11" lengthAdjust="spacingAndGlyphs" stroke="#401c1d" stroke-width="0.3">0</text><text x="26.20" y="159.06" font-size="6.0" text-anchor="start" fill="#42221e" textLength="17.13" lengthAdjust="spacingAndGlyphs" stroke="#42221e" stroke-width="0.3">124.08</text><text x="100.60" y="159.06" font-size="6.0" text-anchor="middle" fill="#483125" textLength="6.23" lengthAdjust="spacingAndGlyphs" stroke="#483125" stroke-width="0.3">40</text><text x="151.15" y="159.06" font-size="6.0" text-anchor="middle" fill="#401c1d" textLength="3.11" lengthAdjust="spacingAndGlyphs" stroke="#401c1d" stroke-width="0.3">0</text><text x="196.60" y="159.06" font-size="6.0" text-anchor="middle" fill="#401c1d" textLength="3.11" lengthAdjust="spacingAndGlyphs" stroke="#401c1d" stroke-width="0.3">0</text><text x="26.20" y="165.14" font-size="6.0" text-anchor="start" fill="#42221e" textLength="17.13" lengthAdjust="spacingAndGlyphs" stroke="#42221e" stroke-width="0.3">129.71</text><text x="100.60" y="165.14" font-size="6.0" text-anchor="middle" fill="#4c482c" textLength="9.34" lengthAdjust="spacingAndGlyphs" stroke="#4c482c" stroke-width="0.3">160</text><text x="151.15" y="165.14" font-size="6.0" text-anchor="middle" fill="#4c482c" textLength="9.34" lengthAdjust="spacingAndGlyphs" stroke="#4c482c" stroke-width="0.3">160</text><text x="196.60" y="165.14" font-size="6.0" text-anchor="middle" fill="#401c1d" textLength="3.11" lengthAdjust="spacingAndGlyphs" stroke="#401c1d" stroke-width="0.3">0</text><text x="26.20" y="171.22" font-size="6.0" text-anchor="start" fill="#42231e" textLength="14.01" lengthAdjust="spacingAndGlyphs" stroke="#42231e" stroke-width="0.3">141.9</text><text x="100.60" y="171.22" font-size="6.0" text-anchor="middle" fill="#401c1d" textLength="3.11" lengthAdjust="spacingAndGlyphs" stroke="#401c1d" stroke-width="0.3">0</text><text x="151.15" y="171.22" font-size="6.0" text-anchor="middle" fill="#401c1d" textLength="3.11" lengthAdjust="spacingAndGlyphs" stroke="#401c1d" stroke-width="0.3">0</text><text x="26.20" y="177.29" font-size="6.0" text-anchor="start" fill="#43241e" textLength="17.13" lengthAdjust="spacingAndGlyphs" stroke="#43241e" stroke-width="0.3">166.85</text><text x="100.60" y="177.29" font-size="6.0" text-anchor="middle" fill="#483125" textLength="6.23" lengthAdjust="spacingAndGlyphs" stroke="#483125" stroke-width="0.3">40</text><text x="151.15" y="177.29" font-size="6.0" text-anchor="middle" fill="#4d482f" textLength="6.23" lengthAdjust="spacingAndGlyphs" stroke="#4d482f" stroke-width="0.3">80</text><text x="196.60" y="177.29" font-size="6.0" text-anchor="middle" fill="#401c1d" textLength="3.11" lengthAdjust="spacingAndGlyphs" stroke="#401c1d" stroke-width="0.3">0</text><text x="26.20" y="183.37" font-size="6.0" text-anchor="start" fill="#43241f" textLength="14.01" lengthAdjust="spacingAndGlyphs" stroke="#43241f" stroke-width="0.3">177.6</text><text x="100.60" y="183.37" font-size="6.0" text-anchor="middle" fill="#401c1d" textLength="3.11" lengthAdjust="spacingAndGlyphs" stroke="#401c1d" stroke-width="0.3">0</text><text x="151.15" y="183.37" font-size="6.0" text-anchor="middle" fill="#401c1d" textLength="3.11" lengthAdjust="spacingAndGlyphs" stroke="#401c1d" stroke-width="0.3">0</text><text x="26.20" y="189.45" font-size="6.0" text-anchor="start" fill="#43251f" textLength="14.01" lengthAdjust="spacingAndGlyphs" stroke="#43251f" stroke-width="0.3">189.5</text><text x="100.60" y="189.45" font-size="6.0" text-anchor="middle" fill="#401c1d" textLength="3.11" lengthAdjust="spacingAndGlyphs" stroke="#401c1d" stroke-width="0.3">0</text><text x="151.15" y="189.45" font-size="6.0" text-anchor="middle" fill="#401c1d" textLength="3.11" lengthAdjust="spacingAndGlyphs" stroke="#401c1d" stroke-width="0.3">0</text><text x="196.60" y="189.45" font-size="6.0" text-anchor="middle" fill="#401c1d" textLength="3.11" lengthAdjust="spacingAndGlyphs" stroke="#401c1d" stroke-width="0.3">0</text><text x="26.20" y="195.53" font-size="6.0" text-anchor="start" fill="#43251f" textLength="14.01" lengthAdjust="spacingAndGlyphs" stroke="#43251f" stroke-width="0.3">195.1</text><text x="100.60" y="195.53" font-size="6.0" text-anchor="middle" fill="#483125" textLength="6.23" lengthAdjust="spacingAndGlyphs" stroke="#483125" stroke-width="0.3">40</text><text x="151.15" y="195.53" font-size="6.0" text-anchor="middle" fill="#401c1d" textLength="3.11" lengthAdjust="spacingAndGlyphs" stroke="#401c1d" stroke-width="0.3">0</text><text x="196.60" y="195.53" font-size="6.0" text-anchor="middle" fill="#401c1d" textLength="3.11" lengthAdjust="spacingAndGlyphs" stroke="#401c1d" stroke-width="0.3">0</text><text x="26.20" y="201.61" font-size="6.0" text-anchor="start" fill="#43261f" textLength="14.01" lengthAdjust="spacingAndGlyphs" stroke="#43261f" stroke-width="0.3">214.7</text><text x="100.60" y="201.61" font-size="6.0" text-anchor="middle" fill="#401c1d" textLength="3.11" lengthAdjust="spacingAndGlyphs" stroke="#401c1d" stroke-width="0.3">0</text><text x="151.15" y="201.61" font-size="6.0" text-anchor="middle" fill="#401c1d" textLength="3.11" lengthAdjust="spacingAndGlyphs" stroke="#401c1d" stroke-width="0.3">0</text><text x="26.20" y="207.68" font-size="6.0" text-anchor="start" fill="#43261f" textLength="17.13" lengthAdjust="spacingAndGlyphs" stroke="#43261f" stroke-width="0.3">225.77</text><text x="100.60" y="207.68" font-size="6.0" text-anchor="middle" fill="#364328" textLength="9.34" lengthAdjust="spacingAndGlyphs" stroke="#364328" stroke-width="0.3">640</text><text x="151.15" y="207.68" font-size="6.0" text-anchor="middle" fill="#4c482c" textLength="9.34" lengthAdjust="spacingAndGlyphs" stroke="#4c482c" stroke-width="0.3">160</text><text x="196.60" y="207.68" font-size="6.0" text-anchor="middle" fill="#401c1d" textLength="3.11" lengthAdjust="spacingAndGlyphs" stroke="#401c1d" stroke-width="0.3">0</text><text x="26.20" y="213.76" font-size="6.0" text-anchor="start" fill="#44281f" textLength="17.13" lengthAdjust="spacingAndGlyphs" stroke="#44281f" stroke-width="0.3">259.72</text><text x="100.60" y="213.76" font-size="6.0" text-anchor="middle" fill="#401c1d" textLength="3.11" lengthAdjust="spacingAndGlyphs" stroke="#401c1d" stroke-width="0.3">0</text><text x="151.15" y="213.76" font-size="6.0" text-anchor="middle" fill="#401c1d" textLength="3.11" lengthAdjust="spacingAndGlyphs" stroke="#401c1d" stroke-width="0.3">0</text><text x="196.60" y="213.76" font-size="6.0" text-anchor="middle" fill="#401c1d" textLength="3.11" lengthAdjust="spacingAndGlyphs" stroke="#401c1d" stroke-width="0.3">0</text><text x="26.20" y="219.84" font-size="6.0" text-anchor="start" fill="#442a20" textLength="17.13" lengthAdjust="spacingAndGlyphs" stroke="#442a20" stroke-width="0.3">302.04</text><text x="100.60" y="219.84" font-size="6.0" text-anchor="middle" fill="#401c1d" textLength="3.11" lengthAdjust="spacingAndGlyphs" stroke="#401c1d" stroke-width="0.3">0</text><text x="151.15" y="219.84" font-size="6.0" text-anchor="middle" fill="#401c1d" textLength="3.11" lengthAdjust="spacingAndGlyphs" stroke="#401c1d" stroke-width="0.3">0</text><text x="196.60" y="219.84" font-size="6.0" text-anchor="middle" fill="#401c1d" textLength="3.11" lengthAdjust="spacingAndGlyphs" stroke="#401c1d" stroke-width="0.3">0</text><text x="26.20" y="225.92" font-size="6.0" text-anchor="start" fill="#452b20" textLength="9.34" lengthAdjust="spacingAndGlyphs" stroke="#452b20" stroke-width="0.3">333</text><text x="100.60" y="225.92" font-size="6.0" text-anchor="middle" fill="#401c1d" textLength="3.11" lengthAdjust="spacingAndGlyphs" stroke="#401c1d" stroke-width="0.3">0</text><text x="151.15" y="225.92" font-size="6.0" text-anchor="middle" fill="#401c1d" textLength="3.11" lengthAdjust="spacingAndGlyphs" stroke="#401c1d" stroke-width="0.3">0</text><text x="196.60" y="225.92" font-size="6.0" text-anchor="middle" fill="#401c1d" textLength="3.11" lengthAdjust="spacingAndGlyphs" stroke="#401c1d" stroke-width="0.3">0</text><text x="26.20" y="232.00" font-size="6.0" text-anchor="start" fill="#452d20" textLength="17.13" lengthAdjust="spacingAndGlyphs" stroke="#452d20" stroke-width="0.3">381.95</text><text x="100.60" y="232.00" font-size="6.0" text-anchor="middle" fill="#401c1d" textLength="3.11" lengthAdjust="spacingAndGlyphs" stroke="#401c1d" stroke-width="0.3">0</text><text x="151.15" y="232.00" font-size="6.0" text-anchor="middle" fill="#401c1d" textLength="3.11" lengthAdjust="spacingAndGlyphs" stroke="#401c1d" stroke-width="0.3">0</text><text x="196.60" y="232.00" font-size="6.0" text-anchor="middle" fill="#401c1d" textLength="3.11" lengthAdjust="spacingAndGlyphs" stroke="#401c1d" stroke-width="0.3">0</text><text x="26.20" y="238.07" font-size="6.0" text-anchor="start" fill="#452d20" textLength="17.13" lengthAdjust="spacingAndGlyphs" stroke="#452d20" stroke-width="0.3">382.32</text><text x="100.60" y="238.07" font-size="6.0" text-anchor="middle" fill="#44241e" textLength="6.23" lengthAdjust="spacingAndGlyphs" stroke="#44241e" stroke-width="0.3">20</text><text x="151.15" y="238.07" font-size="6.0" text-anchor="middle" fill="#401c1d" textLength="3.11" lengthAdjust="spacingAndGlyphs" stroke="#401c1d" stroke-width="0.3">0</text><text x="196.60" y="238.07" font-size="6.0" text-anchor="middle" fill="#401c1d" textLength="3.11" lengthAdjust="spacingAndGlyphs" stroke="#401c1d" stroke-width="0.3">0</text><text x="26.20" y="244.15" font-size="6.0" text-anchor="start" fill="#463221" textLength="17.13" lengthAdjust="spacingAndGlyphs" stroke="#463221" stroke-width="0.3">466.65</text><text x="100.60" y="244.15" font-size="6.0" text-anchor="middle" fill="#401c1d" textLength="3.11" lengthAdjust="spacingAndGlyphs" stroke="#401c1d" stroke-width="0.3">0</text><text x="151.15" y="244.15" font-size="6.0" text-anchor="middle" fill="#401c1d" textLength="3.11" lengthAdjust="spacingAndGlyphs" stroke="#401c1d" stroke-width="0.3">0</text><text x="196.60" y="244.15" font-size="6.0" text-anchor="middle" fill="#401c1d" textLength="3.11" lengthAdjust="spacingAndGlyphs" stroke="#401c1d" stroke-width="0.3">0</text><text x="26.20" y="250.23" font-size="6.0" text-anchor="start" fill="#473321" textLength="17.13" lengthAdjust="spacingAndGlyphs" stroke="#473321" stroke-width="0.3">497.44</text><text x="100.60" y="250.23" font-size="6.0" text-anchor="middle" fill="#401c1d" textLength="3.11" lengthAdjust="spacingAndGlyphs" stroke="#401c1d" stroke-width="0.3">0</text><text x="151.15" y="250.23" font-size="6.0" text-anchor="middle" fill="#401c1d" textLength="3.11" lengthAdjust="spacingAndGlyphs" stroke="#401c1d" stroke-width="0.3">0</text><text x="196.60" y="250.23" font-size="6.0" text-anchor="middle" fill="#401c1d" textLength="3.11" lengthAdjust="spacingAndGlyphs" stroke="#401c1d" stroke-width="0.3">0</text><text x="26.20" y="256.31" font-size="6.0" text-anchor="start" fill="#473522" textLength="17.13" lengthAdjust="spacingAndGlyphs" stroke="#473522" stroke-width="0.3">548.44</text><text x="100.60" y="256.31" font-size="6.0" text-anchor="middle" fill="#483125" textLength="6.23" lengthAdjust="spacingAndGlyphs" stroke="#483125" stroke-width="0.3">40</text><text x="151.15" y="256.31" font-size="6.0" text-anchor="middle" fill="#401c1d" textLength="3.11" lengthAdjust="spacingAndGlyphs" stroke="#401c1d" stroke-width="0.3">0</text><text x="196.60" y="256.31" font-size="6.0" text-anchor="middle" fill="#401c1d" textLength="3.11" lengthAdjust="spacingAndGlyphs" stroke="#401c1d" stroke-width="0.3">0</text><text x="26.20" y="262.39" font-size="6.0" text-anchor="start" fill="#493a23" textLength="9.34" lengthAdjust="spacingAndGlyphs" stroke="#493a23" stroke-width="0.3">647</text><text x="100.60" y="262.39" font-size="6.0" text-anchor="middle" fill="#483125" textLength="6.23" lengthAdjust="spacingAndGlyphs" stroke="#483125" stroke-width="0.3">40</text><text x="151.15" y="262.39" font-size="6.0" text-anchor="middle" fill="#401c1d" textLength="3.11" lengthAdjust="spacingAndGlyphs" stroke="#401c1d" stroke-width="0.3">0</text><text x="196.60" y="262.39" font-size="6.0" text-anchor="middle" fill="#401c1d" textLength="3.11" lengthAdjust="spacingAndGlyphs" stroke="#401c1d" stroke-width="0.3">0</text><text x="26.20" y="268.46" font-size="6.0" text-anchor="start" fill="#493b23" textLength="14.01" lengthAdjust="spacingAndGlyphs" stroke="#493b23" stroke-width="0.3">664.8</text><text x="100.60" y="268.46" font-size="6.0" text-anchor="middle" fill="#401c1d" textLength="3.11" lengthAdjust="spacingAndGlyphs" stroke="#401c1d" stroke-width="0.3">0</text><text x="151.15" y="268.46" font-size="6.0" text-anchor="middle" fill="#401c1d" textLength="3.11" lengthAdjust="spacingAndGlyphs" stroke="#401c1d" stroke-width="0.3">0</text><text x="26.20" y="274.54" font-size="6.0" text-anchor="start" fill="#4a3c23" textLength="14.01" lengthAdjust="spacingAndGlyphs" stroke="#4a3c23" stroke-width="0.3">703.2</text><text x="100.60" y="274.54" font-size="6.0" text-anchor="middle" fill="#401c1d" textLength="3.11" lengthAdjust="spacingAndGlyphs" stroke="#401c1d" stroke-width="0.3">0</text><text x="151.15" y="274.54" font-size="6.0" text-anchor="middle" fill="#401c1d" textLength="3.11" lengthAdjust="spacingAndGlyphs" stroke="#401c1d" stroke-width="0.3">0</text><text x="26.20" y="280.62" font-size="6.0" text-anchor="start" fill="#4b4024" textLength="17.13" lengthAdjust="spacingAndGlyphs" stroke="#4b4024" stroke-width="0.3">775.07</text><text x="100.60" y="280.62" font-size="6.0" text-anchor="middle" fill="#401c1d" textLength="3.11" lengthAdjust="spacingAndGlyphs" stroke="#401c1d" stroke-width="0.3">0</text><text x="151.15" y="280.62" font-size="6.0" text-anchor="middle" fill="#401c1d" textLength="3.11" lengthAdjust="spacingAndGlyphs" stroke="#401c1d" stroke-width="0.3">0</text><text x="196.60" y="280.62" font-size="6.0" text-anchor="middle" fill="#401c1d" textLength="3.11" lengthAdjust="spacingAndGlyphs" stroke="#401c1d" stroke-width="0.3">0</text><text x="26.20" y="286.70" font-size="6.0" text-anchor="start" fill="#4b4224" textLength="17.13" lengthAdjust="spacingAndGlyphs" stroke="#4b4224" stroke-width="0.3">821.23</text><text x="100.60" y="286.70" font-size="6.0" text-anchor="middle" fill="#401c1d" textLength="3.11" lengthAdjust="spacingAndGlyphs" stroke="#401c1d" stroke-width="0.3">0</text><text x="151.15" y="286.70" font-size="6.0" text-anchor="middle" fill="#401c1d" textLength="3.11" lengthAdjust="spacingAndGlyphs" stroke="#401c1d" stroke-width="0.3">0</text><text x="196.60" y="286.70" font-size="6.0" text-anchor="middle" fill="#401c1d" textLength="3.11" lengthAdjust="spacingAndGlyphs" stroke="#401c1d" stroke-width="0.3">0</text><text x="26.20" y="292.78" font-size="6.0" text-anchor="start" fill="#4b4224" textLength="17.13" lengthAdjust="spacingAndGlyphs" stroke="#4b4224" stroke-width="0.3">830.61</text><text x="100.60" y="292.78" font-size="6.0" text-anchor="middle" fill="#364328" textLength="9.34" lengthAdjust="spacingAndGlyphs" stroke="#364328" stroke-width="0.3">640</text><text x="151.15" y="292.78" font-size="6.0" text-anchor="middle" fill="#4d482f" textLength="6.23" lengthAdjust="spacingAndGlyphs" stroke="#4d482f" stroke-width="0.3">80</text><text x="196.60" y="292.78" font-size="6.0" text-anchor="middle" fill="#44241e" textLength="6.23" lengthAdjust="spacingAndGlyphs" stroke="#44241e" stroke-width="0.3">20</text><text x="26.20" y="298.85" font-size="6.0" text-anchor="start" fill="#4c4424" textLength="17.13" lengthAdjust="spacingAndGlyphs" stroke="#4c4424" stroke-width="0.3">869.45</text><text x="100.60" y="298.85" font-size="6.0" text-anchor="middle" fill="#1f3721" textLength="12.46" lengthAdjust="spacingAndGlyphs" stroke="#1f3721" stroke-width="0.3">5120</text><text x="151.15" y="298.85" font-size="6.0" text-anchor="middle" fill="#1f3721" textLength="12.46" lengthAdjust="spacingAndGlyphs" stroke="#1f3721" stroke-width="0.3">5120</text><text x="196.60" y="298.85" font-size="6.0" text-anchor="middle" fill="#401c1d" textLength="3.11" lengthAdjust="spacingAndGlyphs" stroke="#401c1d" stroke-width="0.3">0</text><text x="26.20" y="304.93" font-size="6.0" text-anchor="start" fill="#4c4425" textLength="9.34" lengthAdjust="spacingAndGlyphs" stroke="#4c4425" stroke-width="0.3">875</text><text x="100.60" y="304.93" font-size="6.0" text-anchor="middle" fill="#401c1d" textLength="3.11" lengthAdjust="spacingAndGlyphs" stroke="#401c1d" stroke-width="0.3">0</text><text x="151.15" y="304.93" font-size="6.0" text-anchor="middle" fill="#483125" textLength="6.23" lengthAdjust="spacingAndGlyphs" stroke="#483125" stroke-width="0.3">40</text><text x="26.20" y="311.01" font-size="6.0" text-anchor="start" fill="#4d4a26" textLength="14.01" lengthAdjust="spacingAndGlyphs" stroke="#4d4a26" stroke-width="0.3">992.2</text><text x="100.60" y="311.01" font-size="6.0" text-anchor="middle" fill="#483125" textLength="6.23" lengthAdjust="spacingAndGlyphs" stroke="#483125" stroke-width="0.3">40</text><text x="151.15" y="311.01" font-size="6.0" text-anchor="middle" fill="#401c1d" textLength="3.11" lengthAdjust="spacingAndGlyphs" stroke="#401c1d" stroke-width="0.3">0</text><text x="196.60" y="311.01" font-size="6.0" text-anchor="middle" fill="#401c1d" textLength="3.11" lengthAdjust="spacingAndGlyphs" stroke="#401c1d" stroke-width="0.3">0</text><text x="26.20" y="317.09" font-size="6.0" text-anchor="start" fill="#4d4a26" textLength="20.24" lengthAdjust="spacingAndGlyphs" stroke="#4d4a26" stroke-width="0.3">1072.03</text><text x="100.60" y="317.09" font-size="6.0" text-anchor="middle" fill="#283c24" textLength="12.46" lengthAdjust="spacingAndGlyphs" stroke="#283c24" stroke-width="0.3">1280</text><text x="151.15" y="317.09" font-size="6.0" text-anchor="middle" fill="#47482c" textLength="9.34" lengthAdjust="spacingAndGlyphs" stroke="#47482c" stroke-width="0.3">320</text><text x="196.60" y="317.09" font-size="6.0" text-anchor="middle" fill="#44241e" textLength="6.23" lengthAdjust="spacingAndGlyphs" stroke="#44241e" stroke-width="0.3">20</text><text x="26.20" y="323.17" font-size="6.0" text-anchor="start" fill="#4d4a26" textLength="16.71" lengthAdjust="spacingAndGlyphs" stroke="#4d4a26" stroke-width="0.3">1105.5</text><text x="100.60" y="323.17" font-size="6.0" text-anchor="middle" fill="#4c482c" textLength="9.34" lengthAdjust="spacingAndGlyphs" stroke="#4c482c" stroke-width="0.3">160</text><text x="151.15" y="323.17" font-size="6.0" text-anchor="middle" fill="#4d482f" textLength="6.23" lengthAdjust="spacingAndGlyphs" stroke="#4d482f" stroke-width="0.3">80</text><text x="196.60" y="323.17" font-size="6.0" text-anchor="middle" fill="#44241e" textLength="6.23" lengthAdjust="spacingAndGlyphs" stroke="#44241e" stroke-width="0.3">20</text><text x="26.20" y="329.24" font-size="6.0" text-anchor="start" fill="#4d4a26" textLength="19.83" lengthAdjust="spacingAndGlyphs" stroke="#4d4a26" stroke-width="0.3">1146.41</text><text x="100.60" y="329.24" font-size="6.0" text-anchor="middle" fill="#4c482c" textLength="9.34" lengthAdjust="spacingAndGlyphs" stroke="#4c482c" stroke-width="0.3">160</text><text x="151.15" y="329.24" font-size="6.0" text-anchor="middle" fill="#4c482c" textLength="9.34" lengthAdjust="spacingAndGlyphs" stroke="#4c482c" stroke-width="0.3">160</text><text x="196.60" y="329.24" font-size="6.0" text-anchor="middle" fill="#4d482f" textLength="6.23" lengthAdjust="spacingAndGlyphs" stroke="#4d482f" stroke-width="0.3">80</text><text x="26.20" y="335.32" font-size="6.0" text-anchor="start" fill="#4d4a26" textLength="19.83" lengthAdjust="spacingAndGlyphs" stroke="#4d4a26" stroke-width="0.3">1157.12</text><text x="100.60" y="335.32" font-size="6.0" text-anchor="middle" fill="#4d482f" textLength="6.23" lengthAdjust="spacingAndGlyphs" stroke="#4d482f" stroke-width="0.3">80</text><text x="151.15" y="335.32" font-size="6.0" text-anchor="middle" fill="#483125" textLength="6.23" lengthAdjust="spacingAndGlyphs" stroke="#483125" stroke-width="0.3">40</text><text x="196.60" y="335.32" font-size="6.0" text-anchor="middle" fill="#44241e" textLength="6.23" lengthAdjust="spacingAndGlyphs" stroke="#44241e" stroke-width="0.3">20</text><text x="26.20" y="341.40" font-size="6.0" text-anchor="start" fill="#4d4a26" textLength="19.83" lengthAdjust="spacingAndGlyphs" stroke="#4d4a26" stroke-width="0.3">1192.92</text><text x="100.60" y="341.40" font-size="6.0" text-anchor="middle" fill="#44241e" textLength="6.23" lengthAdjust="spacingAndGlyphs" stroke="#44241e" stroke-width="0.3">20</text><text x="151.15" y="341.40" font-size="6.0" text-anchor="middle" fill="#401c1d" textLength="3.11" lengthAdjust="spacingAndGlyphs" stroke="#401c1d" stroke-width="0.3">0</text><text x="196.60" y="341.40" font-size="6.0" text-anchor="middle" fill="#401c1d" textLength="3.11" lengthAdjust="spacingAndGlyphs" stroke="#401c1d" stroke-width="0.3">0</text><text x="26.20" y="347.48" font-size="6.0" text-anchor="start" fill="#4d4a26" textLength="17.13" lengthAdjust="spacingAndGlyphs" stroke="#4d4a26" stroke-width="0.3">1208.1</text><text x="100.60" y="347.48" font-size="6.0" text-anchor="middle" fill="#483125" textLength="6.23" lengthAdjust="spacingAndGlyphs" stroke="#483125" stroke-width="0.3">40</text><text x="151.15" y="347.48" font-size="6.0" text-anchor="middle" fill="#401c1d" textLength="3.11" lengthAdjust="spacingAndGlyphs" stroke="#401c1d" stroke-width="0.3">0</text><text x="196.60" y="347.48" font-size="6.0" text-anchor="middle" fill="#44241e" textLength="6.23" lengthAdjust="spacingAndGlyphs" stroke="#44241e" stroke-width="0.3">20</text><text x="26.20" y="353.56" font-size="6.0" text-anchor="start" fill="#4c4926" textLength="17.13" lengthAdjust="spacingAndGlyphs" stroke="#4c4926" stroke-width="0.3">1340.5</text><text x="100.60" y="353.56" font-size="6.0" text-anchor="middle" fill="#483125" textLength="6.23" lengthAdjust="spacingAndGlyphs" stroke="#483125" stroke-width="0.3">40</text><text x="151.15" y="353.56" font-size="6.0" text-anchor="middle" fill="#401c1d" textLength="3.11" lengthAdjust="spacingAndGlyphs" stroke="#401c1d" stroke-width="0.3">0</text><text x="26.20" y="359.63" font-size="6.0" text-anchor="start" fill="#4c4926" textLength="17.13" lengthAdjust="spacingAndGlyphs" stroke="#4c4926" stroke-width="0.3">1424.6</text><text x="100.60" y="359.63" font-size="6.0" text-anchor="middle" fill="#401c1d" textLength="3.11" lengthAdjust="spacingAndGlyphs" stroke="#401c1d" stroke-width="0.3">0</text><text x="151.15" y="359.63" font-size="6.0" text-anchor="middle" fill="#401c1d" textLength="3.11" lengthAdjust="spacingAndGlyphs" stroke="#401c1d" stroke-width="0.3">0</text><text x="196.60" y="359.63" font-size="6.0" text-anchor="middle" fill="#44241e" textLength="6.23" lengthAdjust="spacingAndGlyphs" stroke="#44241e" stroke-width="0.3">20</text><text x="26.20" y="365.71" font-size="6.0" text-anchor="start" fill="#4c4925" textLength="20.24" lengthAdjust="spacingAndGlyphs" stroke="#4c4925" stroke-width="0.3">1540.14</text><text x="100.60" y="365.71" font-size="6.0" text-anchor="middle" fill="#483125" textLength="6.23" lengthAdjust="spacingAndGlyphs" stroke="#483125" stroke-width="0.3">40</text><text x="151.15" y="365.71" font-size="6.0" text-anchor="middle" fill="#483125" textLength="6.23" lengthAdjust="spacingAndGlyphs" stroke="#483125" stroke-width="0.3">40</text><text x="196.60" y="365.71" font-size="6.0" text-anchor="middle" fill="#401c1d" textLength="3.11" lengthAdjust="spacingAndGlyphs" stroke="#401c1d" stroke-width="0.3">0</text><text x="26.20" y="371.79" font-size="6.0" text-anchor="start" fill="#4c4925" textLength="20.24" lengthAdjust="spacingAndGlyphs" stroke="#4c4925" stroke-width="0.3">1638.42</text><text x="100.60" y="371.79" font-size="6.0" text-anchor="middle" fill="#4d482f" textLength="6.23" lengthAdjust="spacingAndGlyphs" stroke="#4d482f" stroke-width="0.3">80</text><text x="151.15" y="371.79" font-size="6.0" text-anchor="middle" fill="#483125" textLength="6.23" lengthAdjust="spacingAndGlyphs" stroke="#483125" stroke-width="0.3">40</text><text x="196.60" y="371.79" font-size="6.0" text-anchor="middle" fill="#44241e" textLength="6.23" lengthAdjust="spacingAndGlyphs" stroke="#44241e" stroke-width="0.3">20</text><text x="26.20" y="377.87" font-size="6.0" text-anchor="start" fill="#4b4925" textLength="17.13" lengthAdjust="spacingAndGlyphs" stroke="#4b4925" stroke-width="0.3">1870.5</text><text x="100.60" y="377.87" font-size="6.0" text-anchor="middle" fill="#401c1d" textLength="3.11" lengthAdjust="spacingAndGlyphs" stroke="#401c1d" stroke-width="0.3">0</text><text x="151.15" y="377.87" font-size="6.0" text-anchor="middle" fill="#401c1d" textLength="3.11" lengthAdjust="spacingAndGlyphs" stroke="#401c1d" stroke-width="0.3">0</text><text x="26.20" y="383.95" font-size="6.0" text-anchor="start" fill="#4b4925" textLength="20.24" lengthAdjust="spacingAndGlyphs" stroke="#4b4925" stroke-width="0.3">1878.26</text><text x="100.60" y="383.95" font-size="6.0" text-anchor="middle" fill="#483125" textLength="6.23" lengthAdjust="spacingAndGlyphs" stroke="#483125" stroke-width="0.3">40</text><text x="151.15" y="383.95" font-size="6.0" text-anchor="middle" fill="#401c1d" textLength="3.11" lengthAdjust="spacingAndGlyphs" stroke="#401c1d" stroke-width="0.3">0</text><text x="196.60" y="383.95" font-size="6.0" text-anchor="middle" fill="#401c1d" textLength="3.11" lengthAdjust="spacingAndGlyphs" stroke="#401c1d" stroke-width="0.3">0</text><text x="26.20" y="390.02" font-size="6.0" text-anchor="start" fill="#4b4925" textLength="20.24" lengthAdjust="spacingAndGlyphs" stroke="#4b4925" stroke-width="0.3">1932.78</text><text x="100.60" y="390.02" font-size="6.0" text-anchor="middle" fill="#483125" textLength="6.23" lengthAdjust="spacingAndGlyphs" stroke="#483125" stroke-width="0.3">40</text><text x="151.15" y="390.02" font-size="6.0" text-anchor="middle" fill="#44241e" textLength="6.23" lengthAdjust="spacingAndGlyphs" stroke="#44241e" stroke-width="0.3">20</text><text x="196.60" y="390.02" font-size="6.0" text-anchor="middle" fill="#401c1d" textLength="3.11" lengthAdjust="spacingAndGlyphs" stroke="#401c1d" stroke-width="0.3">0</text><text x="26.20" y="396.10" font-size="6.0" text-anchor="start" fill="#4a4925" textLength="20.24" lengthAdjust="spacingAndGlyphs" stroke="#4a4925" stroke-width="0.3">2056.76</text><text x="100.60" y="396.10" font-size="6.0" text-anchor="middle" fill="#483125" textLength="6.23" lengthAdjust="spacingAndGlyphs" stroke="#483125" stroke-width="0.3">40</text><text x="151.15" y="396.10" font-size="6.0" text-anchor="middle" fill="#44241e" textLength="6.23" lengthAdjust="spacingAndGlyphs" stroke="#44241e" stroke-width="0.3">20</text><text x="196.60" y="396.10" font-size="6.0" text-anchor="middle" fill="#401c1d" textLength="3.11" lengthAdjust="spacingAndGlyphs" stroke="#401c1d" stroke-width="0.3">0</text><text x="26.20" y="402.18" font-size="6.0" text-anchor="start" fill="#4a4925" textLength="19.83" lengthAdjust="spacingAndGlyphs" stroke="#4a4925" stroke-width="0.3">2116.61</text><text x="100.60" y="402.18" font-size="6.0" text-anchor="middle" fill="#4d482f" textLength="6.23" lengthAdjust="spacingAndGlyphs" stroke="#4d482f" stroke-width="0.3">80</text><text x="151.15" y="402.18" font-size="6.0" text-anchor="middle" fill="#483125" textLength="6.23" lengthAdjust="spacingAndGlyphs" stroke="#483125" stroke-width="0.3">40</text><text x="196.60" y="402.18" font-size="6.0" text-anchor="middle" fill="#44241e" textLength="6.23" lengthAdjust="spacingAndGlyphs" stroke="#44241e" stroke-width="0.3">20</text><text x="26.20" y="408.26" font-size="6.0" text-anchor="start" fill="#4a4825" textLength="20.24" lengthAdjust="spacingAndGlyphs" stroke="#4a4825" stroke-width="0.3">2181.82</text><text x="100.60" y="408.26" font-size="6.0" text-anchor="middle" fill="#4d482f" textLength="6.23" lengthAdjust="spacingAndGlyphs" stroke="#4d482f" stroke-width="0.3">80</text><text x="151.15" y="408.26" font-size="6.0" text-anchor="middle" fill="#4d482f" textLength="6.23" lengthAdjust="spacingAndGlyphs" stroke="#4d482f" stroke-width="0.3">80</text><text x="196.60" y="408.26" font-size="6.0" text-anchor="middle" fill="#483125" textLength="6.23" lengthAdjust="spacingAndGlyphs" stroke="#483125" stroke-width="0.3">40</text><text x="26.20" y="414.34" font-size="6.0" text-anchor="start" fill="#4a4825" textLength="12.46" lengthAdjust="spacingAndGlyphs" stroke="#4a4825" stroke-width="0.3">2339</text><text x="100.60" y="414.34" font-size="6.0" text-anchor="middle" fill="#4d482f" textLength="6.23" lengthAdjust="spacingAndGlyphs" stroke="#4d482f" stroke-width="0.3">80</text><text x="151.15" y="414.34" font-size="6.0" text-anchor="middle" fill="#483125" textLength="6.23" lengthAdjust="spacingAndGlyphs" stroke="#483125" stroke-width="0.3">40</text><text x="196.60" y="414.34" font-size="6.0" text-anchor="middle" fill="#401c1d" textLength="3.11" lengthAdjust="spacingAndGlyphs" stroke="#401c1d" stroke-width="0.3">0</text><text x="26.20" y="420.41" font-size="6.0" text-anchor="start" fill="#494825" textLength="17.13" lengthAdjust="spacingAndGlyphs" stroke="#494825" stroke-width="0.3">2462.3</text><text x="100.60" y="420.41" font-size="6.0" text-anchor="middle" fill="#483125" textLength="6.23" lengthAdjust="spacingAndGlyphs" stroke="#483125" stroke-width="0.3">40</text><text x="151.15" y="420.41" font-size="6.0" text-anchor="middle" fill="#483125" textLength="6.23" lengthAdjust="spacingAndGlyphs" stroke="#483125" stroke-width="0.3">40</text><text x="196.60" y="420.41" font-size="6.0" text-anchor="middle" fill="#401c1d" textLength="3.11" lengthAdjust="spacingAndGlyphs" stroke="#401c1d" stroke-width="0.3">0</text><text x="26.20" y="426.49" font-size="6.0" text-anchor="start" fill="#494825" textLength="20.24" lengthAdjust="spacingAndGlyphs" stroke="#494825" stroke-width="0.3">2534.67</text><text x="100.60" y="426.49" font-size="6.0" text-anchor="middle" fill="#4d482f" textLength="6.23" lengthAdjust="spacingAndGlyphs" stroke="#4d482f" stroke-width="0.3">80</text><text x="151.15" y="426.49" font-size="6.0" text-anchor="middle" fill="#483125" textLength="6.23" lengthAdjust="spacingAndGlyphs" stroke="#483125" stroke-width="0.3">40</text><text x="196.60" y="426.49" font-size="6.0" text-anchor="middle" fill="#483125" textLength="6.23" lengthAdjust="spacingAndGlyphs" stroke="#483125" stroke-width="0.3">40</text><text x="26.20" y="432.57" font-size="6.0" text-anchor="start" fill="#494825" textLength="20.24" lengthAdjust="spacingAndGlyphs" stroke="#494825" stroke-width="0.3">2646.72</text><text x="100.60" y="432.57" font-size="6.0" text-anchor="middle" fill="#4c482c" textLength="9.34" lengthAdjust="spacingAndGlyphs" stroke="#4c482c" stroke-width="0.3">160</text><text x="151.15" y="432.57" font-size="6.0" text-anchor="middle" fill="#4c482c" textLength="9.34" lengthAdjust="spacingAndGlyphs" stroke="#4c482c" stroke-width="0.3">160</text><text x="196.60" y="432.57" font-size="6.0" text-anchor="middle" fill="#401c1d" textLength="3.11" lengthAdjust="spacingAndGlyphs" stroke="#401c1d" stroke-width="0.3">0</text><text x="26.20" y="438.65" font-size="6.0" text-anchor="start" fill="#484825" textLength="20.24" lengthAdjust="spacingAndGlyphs" stroke="#484825" stroke-width="0.3">3015.21</text><text x="100.60" y="438.65" font-size="6.0" text-anchor="middle" fill="#4d482f" textLength="6.23" lengthAdjust="spacingAndGlyphs" stroke="#4d482f" stroke-width="0.3">80</text><text x="151.15" y="438.65" font-size="6.0" text-anchor="middle" fill="#4d482f" textLength="6.23" lengthAdjust="spacingAndGlyphs" stroke="#4d482f" stroke-width="0.3">80</text><text x="196.60" y="438.65" font-size="6.0" text-anchor="middle" fill="#483125" textLength="6.23" lengthAdjust="spacingAndGlyphs" stroke="#483125" stroke-width="0.3">40</text><text x="26.20" y="444.73" font-size="6.0" text-anchor="start" fill="#464725" textLength="17.13" lengthAdjust="spacingAndGlyphs" stroke="#464725" stroke-width="0.3">3771.1</text><text x="100.60" y="444.73" font-size="6.0" text-anchor="middle" fill="#4c482c" textLength="9.34" lengthAdjust="spacingAndGlyphs" stroke="#4c482c" stroke-width="0.3">160</text><text x="151.15" y="444.73" font-size="6.0" text-anchor="middle" fill="#4d482f" textLength="6.23" lengthAdjust="spacingAndGlyphs" stroke="#4d482f" stroke-width="0.3">80</text><text x="26.20" y="450.80" font-size="6.0" text-anchor="start" fill="#464725" textLength="20.24" lengthAdjust="spacingAndGlyphs" stroke="#464725" stroke-width="0.3">3992.83</text><text x="100.60" y="450.80" font-size="6.0" text-anchor="middle" fill="#483125" textLength="6.23" lengthAdjust="spacingAndGlyphs" stroke="#483125" stroke-width="0.3">40</text><text x="151.15" y="450.80" font-size="6.0" text-anchor="middle" fill="#4d482f" textLength="6.23" lengthAdjust="spacingAndGlyphs" stroke="#4d482f" stroke-width="0.3">80</text><text x="196.60" y="450.80" font-size="6.0" text-anchor="middle" fill="#401c1d" textLength="3.11" lengthAdjust="spacingAndGlyphs" stroke="#401c1d" stroke-width="0.3">0</text><text x="26.20" y="456.88" font-size="6.0" text-anchor="start" fill="#464725" textLength="20.24" lengthAdjust="spacingAndGlyphs" stroke="#464725" stroke-width="0.3">4020.55</text><text x="100.60" y="456.88" font-size="6.0" text-anchor="middle" fill="#4d482f" textLength="6.23" lengthAdjust="spacingAndGlyphs" stroke="#4d482f" stroke-width="0.3">80</text><text x="151.15" y="456.88" font-size="6.0" text-anchor="middle" fill="#4d482f" textLength="6.23" lengthAdjust="spacingAndGlyphs" stroke="#4d482f" stroke-width="0.3">80</text><text x="196.60" y="456.88" font-size="6.0" text-anchor="middle" fill="#401c1d" textLength="3.11" lengthAdjust="spacingAndGlyphs" stroke="#401c1d" stroke-width="0.3">0</text><text x="26.20" y="462.96" font-size="6.0" text-anchor="start" fill="#454625" textLength="20.24" lengthAdjust="spacingAndGlyphs" stroke="#454625" stroke-width="0.3">4267.88</text><text x="100.60" y="462.96" font-size="6.0" text-anchor="middle" fill="#47482c" textLength="9.34" lengthAdjust="spacingAndGlyphs" stroke="#47482c" stroke-width="0.3">320</text><text x="151.15" y="462.96" font-size="6.0" text-anchor="middle" fill="#4c482c" textLength="9.34" lengthAdjust="spacingAndGlyphs" stroke="#4c482c" stroke-width="0.3">160</text><text x="196.60" y="462.96" font-size="6.0" text-anchor="middle" fill="#401c1d" textLength="3.11" lengthAdjust="spacingAndGlyphs" stroke="#401c1d" stroke-width="0.3">0</text><text x="26.20" y="469.04" font-size="6.0" text-anchor="start" fill="#454625" textLength="20.24" lengthAdjust="spacingAndGlyphs" stroke="#454625" stroke-width="0.3">4357.78</text><text x="100.60" y="469.04" font-size="6.0" text-anchor="middle" fill="#4c482c" textLength="9.34" lengthAdjust="spacingAndGlyphs" stroke="#4c482c" stroke-width="0.3">160</text><text x="151.15" y="469.04" font-size="6.0" text-anchor="middle" fill="#4d482f" textLength="6.23" lengthAdjust="spacingAndGlyphs" stroke="#4d482f" stroke-width="0.3">80</text><text x="196.60" y="469.04" font-size="6.0" text-anchor="middle" fill="#401c1d" textLength="3.11" lengthAdjust="spacingAndGlyphs" stroke="#401c1d" stroke-width="0.3">0</text><text x="26.20" y="475.12" font-size="6.0" text-anchor="start" fill="#454625" textLength="17.13" lengthAdjust="spacingAndGlyphs" stroke="#454625" stroke-width="0.3">4515.6</text><text x="100.60" y="475.12" font-size="6.0" text-anchor="middle" fill="#4c482c" textLength="9.34" lengthAdjust="spacingAndGlyphs" stroke="#4c482c" stroke-width="0.3">160</text><text x="151.15" y="475.12" font-size="6.0" text-anchor="middle" fill="#4d482f" textLength="6.23" lengthAdjust="spacingAndGlyphs" stroke="#4d482f" stroke-width="0.3">80</text><text x="26.20" y="481.19" font-size="6.0" text-anchor="start" fill="#444625" textLength="20.24" lengthAdjust="spacingAndGlyphs" stroke="#444625" stroke-width="0.3">4869.67</text><text x="100.60" y="481.19" font-size="6.0" text-anchor="middle" fill="#364328" textLength="9.34" lengthAdjust="spacingAndGlyphs" stroke="#364328" stroke-width="0.3">640</text><text x="151.15" y="481.19" font-size="6.0" text-anchor="middle" fill="#4d482f" textLength="6.23" lengthAdjust="spacingAndGlyphs" stroke="#4d482f" stroke-width="0.3">80</text><text x="196.60" y="481.19" font-size="6.0" text-anchor="middle" fill="#401c1d" textLength="3.11" lengthAdjust="spacingAndGlyphs" stroke="#401c1d" stroke-width="0.3">0</text><text x="26.20" y="487.27" font-size="6.0" text-anchor="start" fill="#434525" textLength="12.46" lengthAdjust="spacingAndGlyphs" stroke="#434525" stroke-width="0.3">5350</text><text x="100.60" y="487.27" font-size="6.0" text-anchor="middle" fill="#4c482c" textLength="9.34" lengthAdjust="spacingAndGlyphs" stroke="#4c482c" stroke-width="0.3">160</text><text x="151.15" y="487.27" font-size="6.0" text-anchor="middle" fill="#4d482f" textLength="6.23" lengthAdjust="spacingAndGlyphs" stroke="#4d482f" stroke-width="0.3">80</text><text x="26.20" y="493.35" font-size="6.0" text-anchor="start" fill="#424525" textLength="20.24" lengthAdjust="spacingAndGlyphs" stroke="#424525" stroke-width="0.3">5684.38</text><text x="100.60" y="493.35" font-size="6.0" text-anchor="middle" fill="#4c482c" textLength="9.34" lengthAdjust="spacingAndGlyphs" stroke="#4c482c" stroke-width="0.3">160</text><text x="151.15" y="493.35" font-size="6.0" text-anchor="middle" fill="#4d482f" textLength="6.23" lengthAdjust="spacingAndGlyphs" stroke="#4d482f" stroke-width="0.3">80</text><text x="196.60" y="493.35" font-size="6.0" text-anchor="middle" fill="#44241e" textLength="6.23" lengthAdjust="spacingAndGlyphs" stroke="#44241e" stroke-width="0.3">20</text><text x="26.20" y="499.43" font-size="6.0" text-anchor="start" fill="#414424" textLength="20.24" lengthAdjust="spacingAndGlyphs" stroke="#414424" stroke-width="0.3">6285.48</text><text x="100.60" y="499.43" font-size="6.0" text-anchor="middle" fill="#4c482c" textLength="9.34" lengthAdjust="spacingAndGlyphs" stroke="#4c482c" stroke-width="0.3">160</text><text x="151.15" y="499.43" font-size="6.0" text-anchor="middle" fill="#4d482f" textLength="6.23" lengthAdjust="spacingAndGlyphs" stroke="#4d482f" stroke-width="0.3">80</text><text x="196.60" y="499.43" font-size="6.0" text-anchor="middle" fill="#483125" textLength="6.23" lengthAdjust="spacingAndGlyphs" stroke="#483125" stroke-width="0.3">40</text><text x="26.20" y="505.51" font-size="6.0" text-anchor="start" fill="#3c4324" textLength="20.24" lengthAdjust="spacingAndGlyphs" stroke="#3c4324" stroke-width="0.3">8640.02</text><text x="100.60" y="505.51" font-size="6.0" text-anchor="middle" fill="#4c482c" textLength="9.34" lengthAdjust="spacingAndGlyphs" stroke="#4c482c" stroke-width="0.3">160</text><text x="151.15" y="505.51" font-size="6.0" text-anchor="middle" fill="#4d482f" textLength="6.23" lengthAdjust="spacingAndGlyphs" stroke="#4d482f" stroke-width="0.3">80</text><text x="196.60" y="505.51" font-size="6.0" text-anchor="middle" fill="#483125" textLength="6.23" lengthAdjust="spacingAndGlyphs" stroke="#483125" stroke-width="0.3">40</text><text x="26.20" y="511.58" font-size="6.0" text-anchor="start" fill="#3c4224" textLength="17.13" lengthAdjust="spacingAndGlyphs" stroke="#3c4224" stroke-width="0.3">9081.4</text><text x="100.60" y="511.58" font-size="6.0" text-anchor="middle" fill="#4d482f" textLength="6.23" lengthAdjust="spacingAndGlyphs" stroke="#4d482f" stroke-width="0.3">80</text><text x="151.15" y="511.58" font-size="6.0" text-anchor="middle" fill="#401c1d" textLength="3.11" lengthAdjust="spacingAndGlyphs" stroke="#401c1d" stroke-width="0.3">0</text><text x="26.20" y="517.66" font-size="6.0" text-anchor="start" fill="#3b4224" textLength="20.24" lengthAdjust="spacingAndGlyphs" stroke="#3b4224" stroke-width="0.3">9676.95</text><text x="100.60" y="517.66" font-size="6.0" text-anchor="middle" fill="#4d482f" textLength="6.23" lengthAdjust="spacingAndGlyphs" stroke="#4d482f" stroke-width="0.3">80</text><text x="151.15" y="517.66" font-size="6.0" text-anchor="middle" fill="#4c482c" textLength="9.34" lengthAdjust="spacingAndGlyphs" stroke="#4c482c" stroke-width="0.3">160</text><text x="196.60" y="517.66" font-size="6.0" text-anchor="middle" fill="#401c1d" textLength="3.11" lengthAdjust="spacingAndGlyphs" stroke="#401c1d" stroke-width="0.3">0</text><text x="26.20" y="523.74" font-size="6.0" text-anchor="start" fill="#3a4224" textLength="20.24" lengthAdjust="spacingAndGlyphs" stroke="#3a4224" stroke-width="0.3">9844.75</text><text x="100.60" y="523.74" font-size="6.0" text-anchor="middle" fill="#4c482c" textLength="9.34" lengthAdjust="spacingAndGlyphs" stroke="#4c482c" stroke-width="0.3">160</text><text x="151.15" y="523.74" font-size="6.0" text-anchor="middle" fill="#4d482f" textLength="6.23" lengthAdjust="spacingAndGlyphs" stroke="#4d482f" stroke-width="0.3">80</text><text x="196.60" y="523.74" font-size="6.0" text-anchor="middle" fill="#401c1d" textLength="3.11" lengthAdjust="spacingAndGlyphs" stroke="#401c1d" stroke-width="0.3">0</text><text x="26.20" y="529.82" font-size="6.0" text-anchor="start" fill="#394124" textLength="20.24" lengthAdjust="spacingAndGlyphs" stroke="#394124" stroke-width="0.3">10510.1</text><text x="100.60" y="529.82" font-size="6.0" text-anchor="middle" fill="#47482c" textLength="9.34" lengthAdjust="spacingAndGlyphs" stroke="#47482c" stroke-width="0.3">320</text><text x="151.15" y="529.82" font-size="6.0" text-anchor="middle" fill="#47482c" textLength="9.34" lengthAdjust="spacingAndGlyphs" stroke="#47482c" stroke-width="0.3">320</text><text x="196.60" y="529.82" font-size="6.0" text-anchor="middle" fill="#44241e" textLength="6.23" lengthAdjust="spacingAndGlyphs" stroke="#44241e" stroke-width="0.3">20</text><text x="26.20" y="535.90" font-size="6.0" text-anchor="start" fill="#364024" textLength="20.24" lengthAdjust="spacingAndGlyphs" stroke="#364024" stroke-width="0.3">12196.1</text><text x="100.60" y="535.90" font-size="6.0" text-anchor="middle" fill="#47482c" textLength="9.34" lengthAdjust="spacingAndGlyphs" stroke="#47482c" stroke-width="0.3">320</text><text x="151.15" y="535.90" font-size="6.0" text-anchor="middle" fill="#47482c" textLength="9.34" lengthAdjust="spacingAndGlyphs" stroke="#47482c" stroke-width="0.3">320</text><text x="196.60" y="535.90" font-size="6.0" text-anchor="middle" fill="#483125" textLength="6.23" lengthAdjust="spacingAndGlyphs" stroke="#483125" stroke-width="0.3">40</text><text x="26.20" y="541.97" font-size="6.0" text-anchor="start" fill="#354024" textLength="20.24" lengthAdjust="spacingAndGlyphs" stroke="#354024" stroke-width="0.3">12493.4</text><text x="100.60" y="541.97" font-size="6.0" text-anchor="middle" fill="#47482c" textLength="9.34" lengthAdjust="spacingAndGlyphs" stroke="#47482c" stroke-width="0.3">320</text><text x="151.15" y="541.97" font-size="6.0" text-anchor="middle" fill="#47482c" textLength="9.34" lengthAdjust="spacingAndGlyphs" stroke="#47482c" stroke-width="0.3">320</text><text x="196.60" y="541.97" font-size="6.0" text-anchor="middle" fill="#401c1d" textLength="3.11" lengthAdjust="spacingAndGlyphs" stroke="#401c1d" stroke-width="0.3">0</text><text x="26.20" y="548.05" font-size="6.0" text-anchor="start" fill="#2b3b22" textLength="20.24" lengthAdjust="spacingAndGlyphs" stroke="#2b3b22" stroke-width="0.3">18781.3</text><text x="100.60" y="548.05" font-size="6.0" text-anchor="middle" fill="#47482c" textLength="9.34" lengthAdjust="spacingAndGlyphs" stroke="#47482c" stroke-width="0.3">320</text><text x="151.15" y="548.05" font-size="6.0" text-anchor="middle" fill="#4c482c" textLength="9.34" lengthAdjust="spacingAndGlyphs" stroke="#4c482c" stroke-width="0.3">160</text><text x="26.20" y="554.13" font-size="6.0" text-anchor="start" fill="#283a22" textLength="15.57" lengthAdjust="spacingAndGlyphs" stroke="#283a22" stroke-width="0.3">20505</text><text x="100.60" y="554.13" font-size="6.0" text-anchor="middle" fill="#47482c" textLength="9.34" lengthAdjust="spacingAndGlyphs" stroke="#47482c" stroke-width="0.3">320</text><text x="151.15" y="554.13" font-size="6.0" text-anchor="middle" fill="#4c482c" textLength="9.34" lengthAdjust="spacingAndGlyphs" stroke="#4c482c" stroke-width="0.3">160</text><text x="196.60" y="554.13" font-size="6.0" text-anchor="middle" fill="#483125" textLength="6.23" lengthAdjust="spacingAndGlyphs" stroke="#483125" stroke-width="0.3">40</text><text x="26.20" y="560.21" font-size="6.0" text-anchor="start" fill="#283a22" textLength="15.57" lengthAdjust="spacingAndGlyphs" stroke="#283a22" stroke-width="0.3">20548</text><text x="100.60" y="560.21" font-size="6.0" text-anchor="middle" fill="#47482c" textLength="9.34" lengthAdjust="spacingAndGlyphs" stroke="#47482c" stroke-width="0.3">320</text><text x="151.15" y="560.21" font-size="6.0" text-anchor="middle" fill="#4c482c" textLength="9.34" lengthAdjust="spacingAndGlyphs" stroke="#4c482c" stroke-width="0.3">160</text><text x="26.20" y="566.29" font-size="6.0" text-anchor="start" fill="#273922" textLength="20.24" lengthAdjust="spacingAndGlyphs" stroke="#273922" stroke-width="0.3">21313.6</text><text x="100.60" y="566.29" font-size="6.0" text-anchor="middle" fill="#283c24" textLength="12.46" lengthAdjust="spacingAndGlyphs" stroke="#283c24" stroke-width="0.3">1280</text><text x="151.15" y="566.29" font-size="6.0" text-anchor="middle" fill="#364328" textLength="9.34" lengthAdjust="spacingAndGlyphs" stroke="#364328" stroke-width="0.3">640</text><text x="196.60" y="566.29" font-size="6.0" text-anchor="middle" fill="#47482c" textLength="9.34" lengthAdjust="spacingAndGlyphs" stroke="#47482c" stroke-width="0.3">320</text><text x="26.20" y="572.36" font-size="6.0" text-anchor="start" fill="#213721" textLength="20.24" lengthAdjust="spacingAndGlyphs" stroke="#213721" stroke-width="0.3">24512.2</text><text x="100.60" y="572.36" font-size="6.0" text-anchor="middle" fill="#483125" textLength="6.23" lengthAdjust="spacingAndGlyphs" stroke="#483125" stroke-width="0.3">40</text><text x="151.15" y="572.36" font-size="6.0" text-anchor="middle" fill="#44241e" textLength="6.23" lengthAdjust="spacingAndGlyphs" stroke="#44241e" stroke-width="0.3">20</text><text x="196.60" y="572.36" font-size="6.0" text-anchor="middle" fill="#401c1d" textLength="3.11" lengthAdjust="spacingAndGlyphs" stroke="#401c1d" stroke-width="0.3">0</text><text x="26.20" y="578.44" font-size="6.0" text-anchor="start" fill="#213721" textLength="15.57" lengthAdjust="spacingAndGlyphs" stroke="#213721" stroke-width="0.3">25000</text><text x="100.60" y="578.44" font-size="6.0" text-anchor="middle" fill="#364328" textLength="9.34" lengthAdjust="spacingAndGlyphs" stroke="#364328" stroke-width="0.3">640</text><text x="151.15" y="578.44" font-size="6.0" text-anchor="middle" fill="#47482c" textLength="9.34" lengthAdjust="spacingAndGlyphs" stroke="#47482c" stroke-width="0.3">320</text><text x="196.60" y="578.44" font-size="6.0" text-anchor="middle" fill="#4c482c" textLength="9.34" lengthAdjust="spacingAndGlyphs" stroke="#4c482c" stroke-width="0.3">160</text><text x="26.20" y="584.52" font-size="6.0" text-anchor="start" fill="#213721" textLength="15.57" lengthAdjust="spacingAndGlyphs" stroke="#213721" stroke-width="0.3">25000</text><text x="100.60" y="584.52" font-size="6.0" text-anchor="middle" fill="#283c24" textLength="12.46" lengthAdjust="spacingAndGlyphs" stroke="#283c24" stroke-width="0.3">1280</text><text x="151.15" y="584.52" font-size="6.0" text-anchor="middle" fill="#364328" textLength="9.34" lengthAdjust="spacingAndGlyphs" stroke="#364328" stroke-width="0.3">640</text><text x="196.60" y="584.52" font-size="6.0" text-anchor="middle" fill="#4c482c" textLength="9.34" lengthAdjust="spacingAndGlyphs" stroke="#4c482c" stroke-width="0.3">160</text><text x="26.20" y="590.60" font-size="6.0" text-anchor="start" fill="#213721" textLength="15.57" lengthAdjust="spacingAndGlyphs" stroke="#213721" stroke-width="0.3">25000</text><text x="100.60" y="590.60" font-size="6.0" text-anchor="middle" fill="#233923" textLength="12.46" lengthAdjust="spacingAndGlyphs" stroke="#233923" stroke-width="0.3">2560</text><text x="151.15" y="590.60" font-size="6.0" text-anchor="middle" fill="#283c24" textLength="12.46" lengthAdjust="spacingAndGlyphs" stroke="#283c24" stroke-width="0.3">1280</text><text x="196.60" y="590.60" font-size="6.0" text-anchor="middle" fill="#364328" textLength="9.34" lengthAdjust="spacingAndGlyphs" stroke="#364328" stroke-width="0.3">640</text><text x="26.20" y="596.68" font-size="6.0" text-anchor="start" fill="#213721" textLength="15.57" lengthAdjust="spacingAndGlyphs" stroke="#213721" stroke-width="0.3">25000</text><text x="100.60" y="596.68" font-size="6.0" text-anchor="middle" fill="#47482c" textLength="9.34" lengthAdjust="spacingAndGlyphs" stroke="#47482c" stroke-width="0.3">320</text><text x="151.15" y="596.68" font-size="6.0" text-anchor="middle" fill="#4c482c" textLength="9.34" lengthAdjust="spacingAndGlyphs" stroke="#4c482c" stroke-width="0.3">160</text><text x="26.20" y="602.75" font-size="6.0" text-anchor="start" fill="#213721" textLength="15.57" lengthAdjust="spacingAndGlyphs" stroke="#213721" stroke-width="0.3">25000</text><text x="100.60" y="602.75" font-size="6.0" text-anchor="middle" fill="#364328" textLength="9.34" lengthAdjust="spacingAndGlyphs" stroke="#364328" stroke-width="0.3">640</text><text x="151.15" y="602.75" font-size="6.0" text-anchor="middle" fill="#4c482c" textLength="9.34" lengthAdjust="spacingAndGlyphs" stroke="#4c482c" stroke-width="0.3">160</text><text x="196.60" y="602.75" font-size="6.0" text-anchor="middle" fill="#4c482c" textLength="9.34" lengthAdjust="spacingAndGlyphs" stroke="#4c482c" stroke-width="0.3">160</text><text x="26.20" y="608.83" font-size="6.0" text-anchor="start" fill="#213721" textLength="15.57" lengthAdjust="spacingAndGlyphs" stroke="#213721" stroke-width="0.3">25000</text><text x="100.60" y="608.83" font-size="6.0" text-anchor="middle" fill="#283c24" textLength="12.46" lengthAdjust="spacingAndGlyphs" stroke="#283c24" stroke-width="0.3">1280</text><text x="151.15" y="608.83" font-size="6.0" text-anchor="middle" fill="#364328" textLength="9.34" lengthAdjust="spacingAndGlyphs" stroke="#364328" stroke-width="0.3">640</text><text x="196.60" y="608.83" font-size="6.0" text-anchor="middle" fill="#364328" textLength="9.34" lengthAdjust="spacingAndGlyphs" stroke="#364328" stroke-width="0.3">640</text><text x="26.20" y="614.91" font-size="6.0" text-anchor="start" fill="#213721" textLength="15.57" lengthAdjust="spacingAndGlyphs" stroke="#213721" stroke-width="0.3">25000</text><text x="100.60" y="614.91" font-size="6.0" text-anchor="middle" fill="#233923" textLength="12.46" lengthAdjust="spacingAndGlyphs" stroke="#233923" stroke-width="0.3">2560</text><text x="151.15" y="614.91" font-size="6.0" text-anchor="middle" fill="#283c24" textLength="12.46" lengthAdjust="spacingAndGlyphs" stroke="#283c24" stroke-width="0.3">1280</text><text x="196.60" y="614.91" font-size="6.0" text-anchor="middle" fill="#4c482c" textLength="9.34" lengthAdjust="spacingAndGlyphs" stroke="#4c482c" stroke-width="0.3">160</text><text x="26.20" y="620.99" font-size="6.0" text-anchor="start" fill="#213721" textLength="15.57" lengthAdjust="spacingAndGlyphs" stroke="#213721" stroke-width="0.3">25000</text><text x="100.60" y="620.99" font-size="6.0" text-anchor="middle" fill="#1f3721" textLength="12.46" lengthAdjust="spacingAndGlyphs" stroke="#1f3721" stroke-width="0.3">5120</text><text x="151.15" y="620.99" font-size="6.0" text-anchor="middle" fill="#233923" textLength="12.46" lengthAdjust="spacingAndGlyphs" stroke="#233923" stroke-width="0.3">2560</text><text x="196.60" y="620.99" font-size="6.0" text-anchor="middle" fill="#283c24" textLength="12.46" lengthAdjust="spacingAndGlyphs" stroke="#283c24" stroke-width="0.3">1280</text><text x="26.20" y="627.07" font-size="6.0" text-anchor="start" fill="#213721" textLength="15.57" lengthAdjust="spacingAndGlyphs" stroke="#213721" stroke-width="0.3">25000</text><text x="100.60" y="627.07" font-size="6.0" text-anchor="middle" fill="#283c24" textLength="12.46" lengthAdjust="spacingAndGlyphs" stroke="#283c24" stroke-width="0.3">1280</text><text x="151.15" y="627.07" font-size="6.0" text-anchor="middle" fill="#364328" textLength="9.34" lengthAdjust="spacingAndGlyphs" stroke="#364328" stroke-width="0.3">640</text><text x="196.60" y="627.07" font-size="6.0" text-anchor="middle" fill="#364328" textLength="9.34" lengthAdjust="spacingAndGlyphs" stroke="#364328" stroke-width="0.3">640</text><line x1="75.50" y1="32.60" x2="75.50" y2="628.24" stroke="#111" stroke-width="1.1" /><line x1="125.70" y1="32.60" x2="125.70" y2="628.24" stroke="#111" stroke-width="1.1" /><line x1="176.60" y1="32.60" x2="176.60" y2="628.24" stroke="#2a1515" stroke-width="0.7" /><rect x="24.60" y="32.30" width="192.00" height="595.94" fill="none" stroke="#111" stroke-width="1"/><path d="M19.8 35.64 H16.2 V84.26 H19.8" fill="none" stroke="#777" stroke-width="0.9"/><text x="0" y="0" font-size="7.2" fill="#333" text-anchor="middle" textLength="34.60" lengthAdjust="spacingAndGlyphs" transform="translate(8.4 59.95) rotate(-90)">0-50AU/mL</text><path d="M19.8 90.34 H16.2 V309.15 H19.8" fill="none" stroke="#777" stroke-width="0.9"/><text x="0" y="0" font-size="7.2" fill="#333" text-anchor="middle" textLength="46.20" lengthAdjust="spacingAndGlyphs" transform="translate(8.4 199.75) rotate(-90)">50-1000AU/mL</text><path d="M19.8 315.23 H16.2 V479.33 H19.8" fill="none" stroke="#777" stroke-width="0.9"/><text x="0" y="0" font-size="7.2" fill="#333" text-anchor="middle" textLength="55.60" lengthAdjust="spacingAndGlyphs" transform="translate(8.4 397.28) rotate(-90)">1000-5000AU/mL</text><path d="M19.8 485.41 H16.2 V625.21 H19.8" fill="none" stroke="#777" stroke-width="0.9"/><text x="0" y="0" font-size="7.2" fill="#333" text-anchor="middle" textLength="59.80" lengthAdjust="spacingAndGlyphs" transform="translate(8.4 555.31) rotate(-90)">5000-25000AU/mL</text><text x="232.90" y="9.90" font-size="10.5" text-anchor="start" fill="#111" font-weight="bold" textLength="7.00" lengthAdjust="spacingAndGlyphs" >B</text><text x="285.10" y="22.50" font-size="9.6" text-anchor="start" fill="#222" textLength="218.00" lengthAdjust="spacingAndGlyphs" >Detection of neutralising antibody against SARS-Cov-2</text><line x1="277.60" y1="40.50" x2="277.60" y2="201.10" stroke="#111" stroke-width="1.1" /><line x1="274.60" y1="200.60" x2="277.60" y2="200.60" stroke="#111" stroke-width="0.8" /><line x1="276.00" y1="192.62" x2="277.60" y2="192.62" stroke="#111" stroke-width="0.8" /><line x1="276.00" y1="184.64" x2="277.60" y2="184.64" stroke="#111" stroke-width="0.8" /><line x1="276.00" y1="176.66" x2="277.60" y2="176.66" stroke="#111" stroke-width="0.8" /><line x1="276.00" y1="168.68" x2="277.60" y2="168.68" stroke="#111" stroke-width="0.8" /><line x1="276.00" y1="160.70" x2="277.60" y2="160.70" stroke="#111" stroke-width="0.8" /><line x1="276.00" y1="152.72" x2="277.60" y2="152.72" stroke="#111" stroke-width="0.8" /><line x1="276.00" y1="144.74" x2="277.60" y2="144.74" stroke="#111" stroke-width="0.8" /><line x1="276.00" y1="136.76" x2="277.60" y2="136.76" stroke="#111" stroke-width="0.8" /><line x1="276.00" y1="128.78" x2="277.60" y2="128.78" stroke="#111" stroke-width="0.8" /><line x1="274.60" y1="120.80" x2="277.60" y2="120.80" stroke="#111" stroke-width="0.8" /><line x1="276.00" y1="112.82" x2="277.60" y2="112.82" stroke="#111" stroke-width="0.8" /><line x1="276.00" y1="104.84" x2="277.60" y2="104.84" stroke="#111" stroke-width="0.8" /><line x1="276.00" y1="96.86" x2="277.60" y2="96.86" stroke="#111" stroke-width="0.8" /><line x1="276.00" y1="88.88" x2="277.60" y2="88.88" stroke="#111" stroke-width="0.8" /><line x1="276.00" y1="80.90" x2="277.60" y2="80.90" stroke="#111" stroke-width="0.8" /><line x1="276.00" y1="72.92" x2="277.60" y2="72.92" stroke="#111" stroke-width="0.8" /><line x1="276.00" y1="64.94" x2="277.60" y2="64.94" stroke="#111" stroke-width="0.8" /><line x1="276.00" y1="56.96" x2="277.60" y2="56.96" stroke="#111" stroke-width="0.8" /><line x1="276.00" y1="48.98" x2="277.60" y2="48.98" stroke="#111" stroke-width="0.8" /><line x1="274.60" y1="41.00" x2="277.60" y2="41.00" stroke="#111" stroke-width="0.8" /><text x="270.90" y="43.40" font-size="7.8" text-anchor="end" fill="#333" textLength="9.84" lengthAdjust="spacingAndGlyphs" >100</text><text x="271.20" y="123.20" font-size="7.8" text-anchor="end" fill="#333" textLength="6.56" lengthAdjust="spacingAndGlyphs" >50</text><text x="271.20" y="203.00" font-size="7.8" text-anchor="end" fill="#333" textLength="3.28" lengthAdjust="spacingAndGlyphs" >0</text><text x="0" y="0" font-size="8.0" fill="#333" text-anchor="middle" textLength="92.5" lengthAdjust="spacingAndGlyphs" transform="translate(254.2 119.7) rotate(-90)">Proportion of CLL patients (%)</text><line x1="277.10" y1="200.60" x2="512.30" y2="200.60" stroke="#111" stroke-width="1.1" /><rect x="287.40" y="178.26" width="17.80" height="22.34" fill="#5c9f38" /><rect x="287.40" y="136.12" width="17.80" height="42.13" fill="#25397f" /><rect x="287.40" y="97.18" width="17.80" height="38.94" fill="#961129" /><rect x="315.50" y="186.56" width="18.10" height="14.04" fill="#3b1655" /><rect x="315.50" y="148.89" width="18.10" height="37.67" fill="#5c9f38" /><rect x="315.50" y="146.18" width="18.10" height="2.71" fill="#25397f" /><rect x="371.70" y="191.66" width="18.30" height="8.94" fill="#5c9f38" /><rect x="371.70" y="156.23" width="18.30" height="35.43" fill="#25397f" /><rect x="371.70" y="118.25" width="18.30" height="37.98" fill="#961129" /><rect x="400.20" y="186.87" width="18.10" height="13.73" fill="#3b1655" /><rect x="400.20" y="135.80" width="18.10" height="51.07" fill="#5c9f38" /><rect x="400.20" y="125.91" width="18.10" height="9.90" fill="#25397f" /><rect x="400.20" y="124.95" width="18.10" height="0.96" fill="#961129" /><rect x="456.30" y="198.53" width="18.30" height="2.07" fill="#5c9f38" /><rect x="456.30" y="175.86" width="18.30" height="22.66" fill="#25397f" /><rect x="456.30" y="142.98" width="18.30" height="32.88" fill="#961129" /><rect x="484.90" y="196.93" width="17.90" height="3.67" fill="#3b1655" /><rect x="484.90" y="136.44" width="17.90" height="60.49" fill="#5c9f38" /><rect x="484.90" y="108.03" width="17.90" height="28.41" fill="#25397f" /><rect x="484.90" y="100.05" width="17.90" height="7.98" fill="#961129" /><line x1="277.10" y1="200.60" x2="512.30" y2="200.60" stroke="#111" stroke-width="1.1" /><line x1="296.30" y1="200.60" x2="296.30" y2="203.80" stroke="#111" stroke-width="0.9" /><line x1="324.50" y1="200.60" x2="324.50" y2="203.80" stroke="#111" stroke-width="0.9" /><line x1="352.60" y1="200.60" x2="352.60" y2="203.80" stroke="#111" stroke-width="0.9" /><line x1="380.80" y1="200.60" x2="380.80" y2="203.80" stroke="#111" stroke-width="0.9" /><line x1="409.30" y1="200.60" x2="409.30" y2="203.80" stroke="#111" stroke-width="0.9" /><line x1="437.20" y1="200.60" x2="437.20" y2="203.80" stroke="#111" stroke-width="0.9" /><line x1="465.40" y1="200.60" x2="465.40" y2="203.80" stroke="#111" stroke-width="0.9" /><line x1="493.90" y1="200.60" x2="493.90" y2="203.80" stroke="#111" stroke-width="0.9" /><text x="296.30" y="213.10" font-size="7.4" text-anchor="middle" fill="#333" textLength="22.30" lengthAdjust="spacingAndGlyphs" >Positive</text><text x="324.50" y="213.10" font-size="7.4" text-anchor="middle" fill="#333" textLength="26.80" lengthAdjust="spacingAndGlyphs" >Negative</text><path d="M296.30 218.6 V221.9 H324.50 V218.6" fill="none" stroke="#222" stroke-width="0.9"/><text x="310.40" y="230.60" font-size="7.4" text-anchor="middle" fill="#333" textLength="20.80" lengthAdjust="spacingAndGlyphs" >D614G</text><text x="380.80" y="213.10" font-size="7.4" text-anchor="middle" fill="#333" textLength="22.30" lengthAdjust="spacingAndGlyphs" >Positive</text><text x="409.30" y="213.10" font-size="7.4" text-anchor="middle" fill="#333" textLength="26.80" lengthAdjust="spacingAndGlyphs" >Negative</text><path d="M380.80 218.6 V221.9 H409.30 V218.6" fill="none" stroke="#222" stroke-width="0.9"/><text x="395.05" y="230.60" font-size="7.4" text-anchor="middle" fill="#333" textLength="18.90" lengthAdjust="spacingAndGlyphs" >DELTA</text><text x="465.40" y="213.10" font-size="7.4" text-anchor="middle" fill="#333" textLength="22.30" lengthAdjust="spacingAndGlyphs" >Positive</text><text x="493.90" y="213.10" font-size="7.4" text-anchor="middle" fill="#333" textLength="26.80" lengthAdjust="spacingAndGlyphs" >Negative</text><path d="M465.40 218.6 V221.9 H493.90 V218.6" fill="none" stroke="#222" stroke-width="0.9"/><text x="479.65" y="230.60" font-size="7.4" text-anchor="middle" fill="#333" textLength="32.90" lengthAdjust="spacingAndGlyphs" >OMICRON</text><text x="282.30" y="63.00" font-size="7.6" text-anchor="start" fill="#333" textLength="72.00" lengthAdjust="spacingAndGlyphs" >Anti-spike protein levels</text><path d="M360.6 41.0 H357.8 V81.7 H360.6" fill="none" stroke="#222" stroke-width="0.9"/><rect x="364.80" y="39.30" width="4.40" height="4.40" fill="#3b1655" /><text x="372.70" y="43.50" font-size="7.6" text-anchor="start" fill="#333" textLength="118.80" lengthAdjust="spacingAndGlyphs" >Negative (anti-S protein level&lt;50AU/mL</text><rect x="364.80" y="52.50" width="4.40" height="4.40" fill="#5c9f38" /><text x="372.70" y="56.50" font-size="7.6" text-anchor="start" fill="#333" textLength="131.90" lengthAdjust="spacingAndGlyphs" >Weak (50&lt;anti-S protein level&lt;1000 AU/mL)</text><rect x="364.80" y="65.80" width="4.40" height="4.40" fill="#25397f" /><text x="372.70" y="69.60" font-size="7.6" text-anchor="start" fill="#333" textLength="136.50" lengthAdjust="spacingAndGlyphs" >High (1000&lt;anti-S protein level&lt;5000 AU/mL)</text><rect x="364.80" y="79.20" width="4.40" height="4.40" fill="#961129" /><text x="372.70" y="83.00" font-size="7.6" text-anchor="start" fill="#333" textLength="117.80" lengthAdjust="spacingAndGlyphs" >Ultra (anti-S protein level&gt;5000 AU/mL)</text><text x="232.50" y="263.70" font-size="10.6" text-anchor="start" fill="#111" font-weight="bold" textLength="6.60" lengthAdjust="spacingAndGlyphs" >C</text><text x="288.00" y="270.90" font-size="9.2" text-anchor="start" fill="#222" textLength="216.60" lengthAdjust="spacingAndGlyphs" >Odds ratio of neutralisation against COVID-19 variants</text><line x1="327.90" y1="282.80" x2="327.90" y2="477.60" stroke="#111" stroke-width="1.1" /><line x1="327.40" y1="477.10" x2="426.10" y2="477.10" stroke="#111" stroke-width="1.1" /><line x1="327.50" y1="477.10" x2="327.50" y2="479.90" stroke="#111" stroke-width="0.9" /><line x1="346.60" y1="477.10" x2="346.60" y2="479.90" stroke="#111" stroke-width="0.9" /><line x1="365.70" y1="477.10" x2="365.70" y2="479.90" stroke="#111" stroke-width="0.9" /><line x1="384.80" y1="477.10" x2="384.80" y2="479.90" stroke="#111" stroke-width="0.9" /><line x1="403.90" y1="477.10" x2="403.90" y2="479.90" stroke="#111" stroke-width="0.9" /><line x1="423.00" y1="477.10" x2="423.00" y2="479.90" stroke="#111" stroke-width="0.9" /><text x="327.50" y="490.20" font-size="8.4" text-anchor="middle" fill="#333" textLength="18.27" lengthAdjust="spacingAndGlyphs" >0.001</text><text x="346.60" y="490.20" font-size="8.4" text-anchor="middle" fill="#333" textLength="14.21" lengthAdjust="spacingAndGlyphs" >0.01</text><text x="365.70" y="490.20" font-size="8.4" text-anchor="middle" fill="#333" textLength="10.15" lengthAdjust="spacingAndGlyphs" >0.1</text><text x="384.80" y="490.20" font-size="8.4" text-anchor="middle" fill="#333" textLength="4.06" lengthAdjust="spacingAndGlyphs" >1</text><text x="403.90" y="490.20" font-size="8.4" text-anchor="middle" fill="#333" textLength="8.12" lengthAdjust="spacingAndGlyphs" >10</text><text x="423.00" y="490.20" font-size="8.4" text-anchor="middle" fill="#333" textLength="12.18" lengthAdjust="spacingAndGlyphs" >100</text><line x1="384.8" y1="283" x2="384.8" y2="475" stroke="#555" stroke-width="0.7" stroke-dasharray="1 1"/><line x1="325.30" y1="303.80" x2="327.90" y2="303.80" stroke="#111" stroke-width="0.9" /><line x1="333.25" y1="303.80" x2="362.13" y2="303.80" stroke="#1a1a1a" stroke-width="1.05" /><line x1="333.25" y1="302.20" x2="333.25" y2="305.40" stroke="#1a1a1a" stroke-width="1.0" /><line x1="362.13" y1="302.20" x2="362.13" y2="305.40" stroke="#1a1a1a" stroke-width="1.0" /><circle cx="348.11" cy="303.80" r="1.6" fill="#6e0f22"/><text x="321.10" y="302.00" font-size="8.8" text-anchor="end" fill="#333" textLength="24.60" lengthAdjust="spacingAndGlyphs" >D614G</text><text x="321.30" y="310.80" font-size="8.8" text-anchor="end" fill="#333" textLength="57.20" lengthAdjust="spacingAndGlyphs" >&lt; 1000 vs ≥1000</text><text x="426.30" y="306.80" font-size="8.8" text-anchor="middle" fill="#333" textLength="19.02" lengthAdjust="spacingAndGlyphs" >0.012</text><text x="451.00" y="306.80" font-size="8.8" text-anchor="middle" fill="#333" textLength="19.02" lengthAdjust="spacingAndGlyphs" >0.002</text><text x="475.60" y="306.80" font-size="8.8" text-anchor="middle" fill="#333" textLength="19.02" lengthAdjust="spacingAndGlyphs" >0.065</text><text x="518.60" y="306.80" font-size="8.8" text-anchor="end" fill="#333" textLength="23.46" lengthAdjust="spacingAndGlyphs" >&lt;.0001</text><line x1="325.30" y1="334.30" x2="327.90" y2="334.30" stroke="#111" stroke-width="0.9" /><line x1="339.00" y1="334.30" x2="361.32" y2="334.30" stroke="#1a1a1a" stroke-width="1.05" /><line x1="339.00" y1="332.70" x2="339.00" y2="335.90" stroke="#1a1a1a" stroke-width="1.0" /><line x1="361.32" y1="332.70" x2="361.32" y2="335.90" stroke="#1a1a1a" stroke-width="1.0" /><circle cx="349.96" cy="334.30" r="1.6" fill="#6e0f22"/><text x="321.10" y="332.50" font-size="8.8" text-anchor="end" fill="#333" textLength="17.00" lengthAdjust="spacingAndGlyphs" >Delta</text><text x="321.30" y="341.30" font-size="8.8" text-anchor="end" fill="#333" textLength="57.20" lengthAdjust="spacingAndGlyphs" >&lt; 1000 vs ≥1000</text><text x="426.30" y="337.30" font-size="8.8" text-anchor="middle" fill="#333" textLength="19.02" lengthAdjust="spacingAndGlyphs" >0.015</text><text x="451.00" y="337.30" font-size="8.8" text-anchor="middle" fill="#333" textLength="19.02" lengthAdjust="spacingAndGlyphs" >0.004</text><text x="475.60" y="337.30" font-size="8.8" text-anchor="middle" fill="#333" textLength="19.02" lengthAdjust="spacingAndGlyphs" >0.059</text><text x="518.60" y="337.30" font-size="8.8" text-anchor="end" fill="#333" textLength="23.46" lengthAdjust="spacingAndGlyphs" >&lt;.0001</text><line x1="325.30" y1="364.80" x2="327.90" y2="364.80" stroke="#111" stroke-width="0.9" /><line x1="333.25" y1="364.80" x2="369.06" y2="364.80" stroke="#1a1a1a" stroke-width="1.05" /><line x1="333.25" y1="363.20" x2="333.25" y2="366.40" stroke="#1a1a1a" stroke-width="1.0" /><line x1="369.06" y1="363.20" x2="369.06" y2="366.40" stroke="#1a1a1a" stroke-width="1.0" /><circle cx="351.00" cy="364.80" r="1.6" fill="#6e0f22"/><text x="321.10" y="363.00" font-size="8.8" text-anchor="end" fill="#333" textLength="28.80" lengthAdjust="spacingAndGlyphs" >Omicron</text><text x="321.30" y="371.80" font-size="8.8" text-anchor="end" fill="#333" textLength="57.20" lengthAdjust="spacingAndGlyphs" >&lt; 1000 vs ≥1000</text><text x="426.30" y="367.80" font-size="8.8" text-anchor="middle" fill="#333" textLength="19.02" lengthAdjust="spacingAndGlyphs" >0.017</text><text x="451.00" y="367.80" font-size="8.8" text-anchor="middle" fill="#333" textLength="19.02" lengthAdjust="spacingAndGlyphs" >0.002</text><text x="475.60" y="367.80" font-size="8.8" text-anchor="middle" fill="#333" textLength="19.02" lengthAdjust="spacingAndGlyphs" >0.150</text><text x="518.60" y="367.80" font-size="8.8" text-anchor="end" fill="#333" textLength="19.02" lengthAdjust="spacingAndGlyphs" >.0003</text><line x1="325.30" y1="395.30" x2="327.90" y2="395.30" stroke="#111" stroke-width="0.9" /><line x1="356.75" y1="395.30" x2="384.87" y2="395.30" stroke="#1a1a1a" stroke-width="1.05" /><line x1="356.75" y1="393.70" x2="356.75" y2="396.90" stroke="#1a1a1a" stroke-width="1.0" /><line x1="384.87" y1="393.70" x2="384.87" y2="396.90" stroke="#1a1a1a" stroke-width="1.0" /><circle cx="370.85" cy="395.30" r="1.6" fill="#6e0f22"/><text x="321.00" y="398.10" font-size="8.8" text-anchor="end" fill="#333" textLength="57.60" lengthAdjust="spacingAndGlyphs" >DELTA vs D614G</text><text x="426.30" y="398.30" font-size="8.8" text-anchor="middle" fill="#333" textLength="19.02" lengthAdjust="spacingAndGlyphs" >0.186</text><text x="451.00" y="398.30" font-size="8.8" text-anchor="middle" fill="#333" textLength="19.02" lengthAdjust="spacingAndGlyphs" >0.034</text><text x="475.60" y="398.30" font-size="8.8" text-anchor="middle" fill="#333" textLength="19.02" lengthAdjust="spacingAndGlyphs" >1.008</text><text x="518.60" y="398.30" font-size="8.8" text-anchor="end" fill="#333" textLength="18.45" lengthAdjust="spacingAndGlyphs" >.0511</text><line x1="325.30" y1="425.80" x2="327.90" y2="425.80" stroke="#111" stroke-width="0.9" /><line x1="339.00" y1="425.80" x2="367.48" y2="425.80" stroke="#1a1a1a" stroke-width="1.05" /><line x1="339.00" y1="424.20" x2="339.00" y2="427.40" stroke="#1a1a1a" stroke-width="1.0" /><line x1="367.48" y1="424.20" x2="367.48" y2="427.40" stroke="#1a1a1a" stroke-width="1.0" /><circle cx="353.51" cy="425.80" r="1.6" fill="#6e0f22"/><text x="321.00" y="428.60" font-size="8.8" text-anchor="end" fill="#333" textLength="74.10" lengthAdjust="spacingAndGlyphs" >OMICRON vs D614G</text><text x="426.30" y="428.80" font-size="8.8" text-anchor="middle" fill="#333" textLength="19.02" lengthAdjust="spacingAndGlyphs" >0.023</text><text x="451.00" y="428.80" font-size="8.8" text-anchor="middle" fill="#333" textLength="19.02" lengthAdjust="spacingAndGlyphs" >0.004</text><text x="475.60" y="428.80" font-size="8.8" text-anchor="middle" fill="#333" textLength="19.02" lengthAdjust="spacingAndGlyphs" >0.124</text><text x="518.60" y="428.80" font-size="8.8" text-anchor="end" fill="#333" textLength="23.46" lengthAdjust="spacingAndGlyphs" >&lt;.0001</text><line x1="325.30" y1="456.30" x2="327.90" y2="456.30" stroke="#111" stroke-width="0.9" /><line x1="393.25" y1="456.30" x2="411.29" y2="456.30" stroke="#1a1a1a" stroke-width="1.05" /><line x1="393.25" y1="454.70" x2="393.25" y2="457.90" stroke="#1a1a1a" stroke-width="1.0" /><line x1="411.29" y1="454.70" x2="411.29" y2="457.90" stroke="#1a1a1a" stroke-width="1.0" /><circle cx="402.27" cy="456.30" r="1.6" fill="#6e0f22"/><text x="321.00" y="459.10" font-size="8.8" text-anchor="end" fill="#333" textLength="72.00" lengthAdjust="spacingAndGlyphs" >DELTA vs OMICRON</text><text x="426.30" y="459.30" font-size="8.8" text-anchor="middle" fill="#333" textLength="19.02" lengthAdjust="spacingAndGlyphs" >8.217</text><text x="451.00" y="459.30" font-size="8.8" text-anchor="middle" fill="#333" textLength="19.02" lengthAdjust="spacingAndGlyphs" >2.770</text><text x="475.60" y="459.30" font-size="8.8" text-anchor="middle" fill="#333" textLength="23.25" lengthAdjust="spacingAndGlyphs" >24.374</text><text x="518.60" y="459.30" font-size="8.8" text-anchor="end" fill="#333" textLength="19.02" lengthAdjust="spacingAndGlyphs" >.0002</text><text x="426.00" y="288.00" font-size="7.6" text-anchor="middle" fill="#111" font-weight="bold" textLength="10.10" lengthAdjust="spacingAndGlyphs" >OR</text><text x="451.20" y="288.00" font-size="7.6" text-anchor="middle" fill="#111" font-weight="bold" textLength="13.10" lengthAdjust="spacingAndGlyphs" >LCL</text><text x="476.00" y="288.00" font-size="7.6" text-anchor="middle" fill="#111" font-weight="bold" textLength="14.10" lengthAdjust="spacingAndGlyphs" >UCL</text><text x="494.0" y="288.0" font-size="7.6" font-weight="bold" fill="#111"><tspan font-style="italic">P</tspan> value</text><text x="232.20" y="520.40" font-size="10.5" text-anchor="start" fill="#111" font-weight="bold" textLength="7.80" lengthAdjust="spacingAndGlyphs" >D</text><line x1="246.60" y1="526.80" x2="520.00" y2="526.80" stroke="#111" stroke-width="1.1" /><line x1="246.60" y1="543.60" x2="520.00" y2="543.60" stroke="#111" stroke-width="1.1" /><line x1="246.60" y1="560.20" x2="520.00" y2="560.20" stroke="#111" stroke-width="1.1" /><line x1="246.60" y1="628.20" x2="520.00" y2="628.20" stroke="#111" stroke-width="1.6" /><text x="251.00" y="537.50" font-size="8.3" text-anchor="start" fill="#222" textLength="138.40" lengthAdjust="spacingAndGlyphs" >Determinants of neutralization response</text><text x="251.00" y="554.00" font-size="8.3" text-anchor="start" fill="#222" textLength="19.20" lengthAdjust="spacingAndGlyphs" >Effect</text><text x="456.5" y="553.8" font-size="8.3" fill="#222" textLength="24.7" lengthAdjust="spacingAndGlyphs"><tspan font-style="italic">P</tspan> value</text><text x="251.00" y="570.80" font-size="8.3" text-anchor="start" fill="#222" textLength="26.90" lengthAdjust="spacingAndGlyphs" >Variants</text><text x="482.60" y="570.80" font-size="8.3" text-anchor="end" fill="#222" textLength="25.40" lengthAdjust="spacingAndGlyphs" >&lt; .0001</text><text x="251.00" y="587.30" font-size="8.3" text-anchor="start" fill="#222" textLength="121.30" lengthAdjust="spacingAndGlyphs" >Anti spike protein (&lt;1000/&gt;=1000)</text><text x="482.60" y="587.30" font-size="8.3" text-anchor="end" fill="#222" textLength="25.40" lengthAdjust="spacingAndGlyphs" >&lt; .0001</text><text x="251.00" y="605.60" font-size="8.3" text-anchor="start" fill="#222" textLength="104.60" lengthAdjust="spacingAndGlyphs" >Anti spike protein per variants</text><text x="482.60" y="605.60" font-size="8.3" text-anchor="end" fill="#222" textLength="18.89" lengthAdjust="spacingAndGlyphs" >.9500</text><text x="251.00" y="622.20" font-size="8.3" text-anchor="start" fill="#222" textLength="59.80" lengthAdjust="spacingAndGlyphs" >Number of doses</text><text x="482.60" y="622.20" font-size="8.3" text-anchor="end" fill="#222" textLength="18.89" lengthAdjust="spacingAndGlyphs" >.0031</text></svg>
</body></html>
